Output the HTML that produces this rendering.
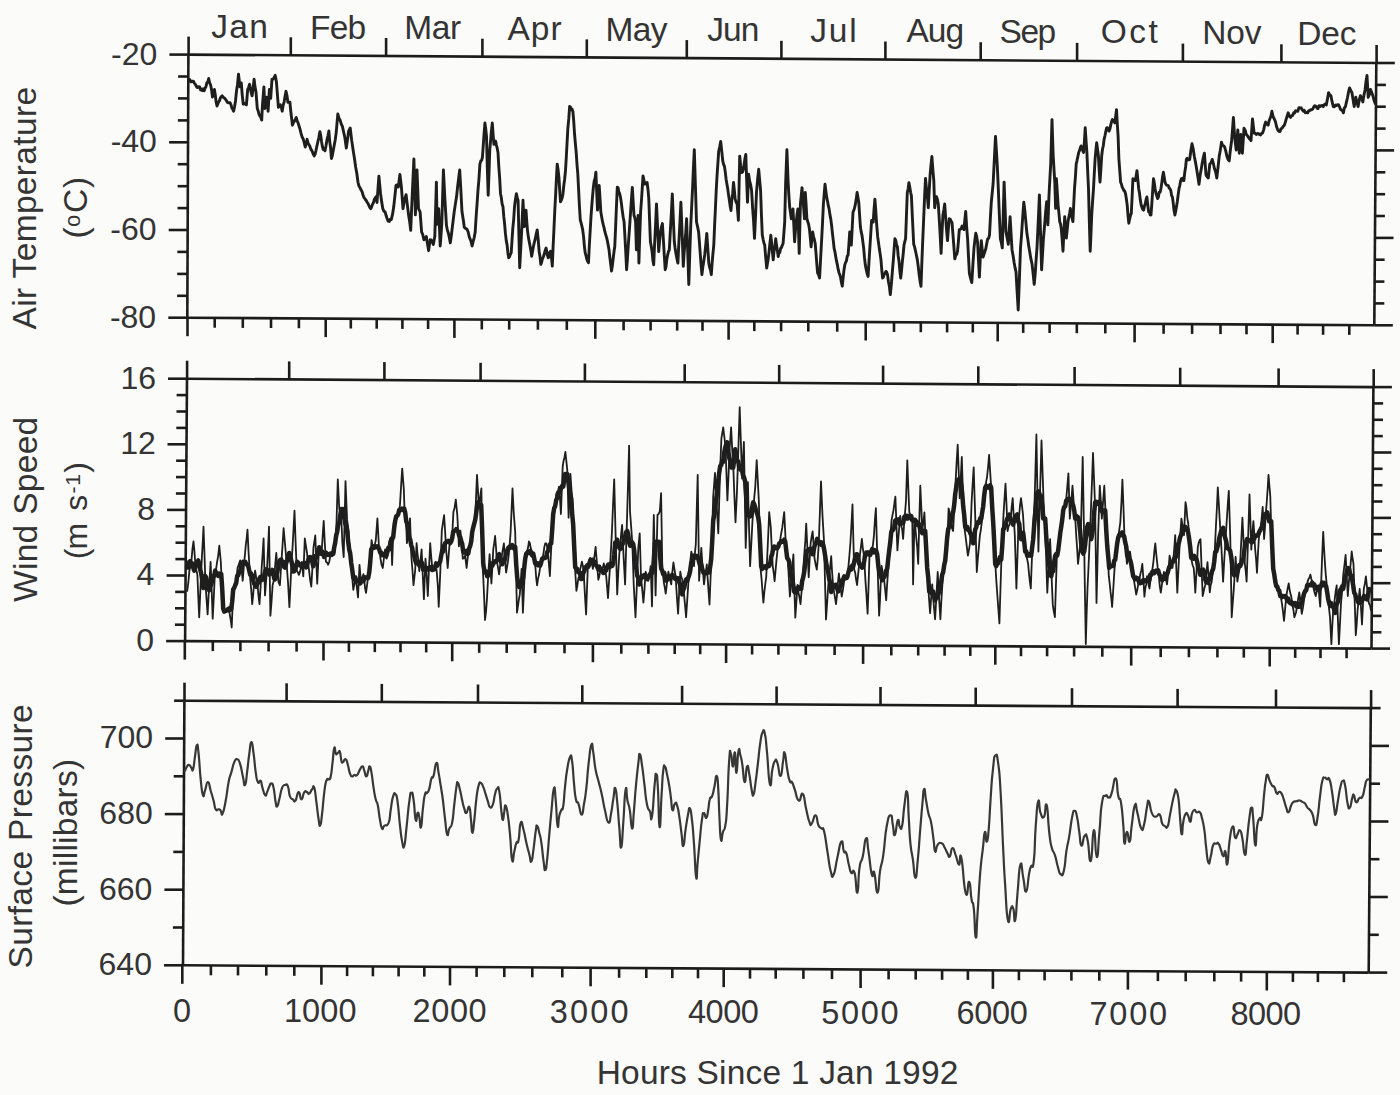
<!DOCTYPE html>
<html><head><meta charset="utf-8"><style>
html,body{margin:0;padding:0;background:#fbfbf9;}
svg{display:block;}
text{font-family:"Liberation Sans",sans-serif;fill:#343434;}
</style></head><body>
<svg width="1400" height="1095" viewBox="0 0 1400 1095">
<rect width="1400" height="1095" fill="#fbfbf9"/>
<g stroke="#1c1c1c" stroke-width="2.6" stroke-linecap="butt" fill="none"><line x1="188.4" y1="54.6" x2="1376.3" y2="63.0"/><line x1="1376.3" y1="63.0" x2="1374.3" y2="325.3"/><line x1="1374.3" y1="325.3" x2="187.3" y2="317.7"/><line x1="187.3" y1="317.7" x2="188.4" y2="54.6"/><line x1="188.6" y1="54.6" x2="188.6" y2="36.6"/><line x1="290.8" y1="55.3" x2="290.8" y2="37.3"/><line x1="386.1" y1="56.0" x2="386.1" y2="38.0"/><line x1="482.4" y1="56.7" x2="482.4" y2="38.7"/><line x1="586.8" y1="57.4" x2="586.8" y2="39.4"/><line x1="686.8" y1="58.1" x2="686.8" y2="40.1"/><line x1="781.4" y1="58.8" x2="781.4" y2="40.8"/><line x1="885.4" y1="59.5" x2="885.4" y2="41.5"/><line x1="980.7" y1="60.2" x2="980.7" y2="42.2"/><line x1="1077.1" y1="60.9" x2="1077.1" y2="42.9"/><line x1="1182.9" y1="61.6" x2="1182.9" y2="43.6"/><line x1="1281.4" y1="62.3" x2="1281.4" y2="44.3"/><line x1="1376.6" y1="63.0" x2="1376.6" y2="45.0"/><line x1="187.5" y1="317.7" x2="187.5" y2="336.2"/><line x1="214.7" y1="317.9" x2="214.7" y2="327.7"/><line x1="242.8" y1="318.1" x2="242.8" y2="327.9"/><line x1="271.0" y1="318.2" x2="271.0" y2="328.0"/><line x1="298.9" y1="318.4" x2="298.9" y2="328.2"/><line x1="325.7" y1="318.6" x2="325.7" y2="337.1"/><line x1="350.8" y1="318.7" x2="350.8" y2="328.5"/><line x1="376.7" y1="318.9" x2="376.7" y2="328.7"/><line x1="402.4" y1="319.1" x2="402.4" y2="328.9"/><line x1="428.1" y1="319.2" x2="428.1" y2="329.0"/><line x1="454.4" y1="319.4" x2="454.4" y2="337.9"/><line x1="481.8" y1="319.6" x2="481.8" y2="329.4"/><line x1="509.2" y1="319.8" x2="509.2" y2="329.6"/><line x1="537.9" y1="319.9" x2="537.9" y2="329.7"/><line x1="566.8" y1="320.1" x2="566.8" y2="329.9"/><line x1="595.3" y1="320.3" x2="595.3" y2="338.8"/><line x1="623.6" y1="320.5" x2="623.6" y2="330.3"/><line x1="650.6" y1="320.7" x2="650.6" y2="330.5"/><line x1="677.2" y1="320.8" x2="677.2" y2="330.6"/><line x1="702.5" y1="321.0" x2="702.5" y2="330.8"/><line x1="728.6" y1="321.2" x2="728.6" y2="339.7"/><line x1="754.3" y1="321.3" x2="754.3" y2="331.1"/><line x1="781.1" y1="321.5" x2="781.1" y2="331.3"/><line x1="808.3" y1="321.7" x2="808.3" y2="331.5"/><line x1="837.2" y1="321.9" x2="837.2" y2="331.7"/><line x1="865.7" y1="322.0" x2="865.7" y2="340.5"/><line x1="894.0" y1="322.2" x2="894.0" y2="332.0"/><line x1="920.8" y1="322.4" x2="920.8" y2="332.2"/><line x1="947.1" y1="322.6" x2="947.1" y2="332.4"/><line x1="972.8" y1="322.7" x2="972.8" y2="332.5"/><line x1="997.7" y1="322.9" x2="997.7" y2="341.4"/><line x1="1023.2" y1="323.1" x2="1023.2" y2="332.9"/><line x1="1049.6" y1="323.2" x2="1049.6" y2="333.0"/><line x1="1076.8" y1="323.4" x2="1076.8" y2="333.2"/><line x1="1105.3" y1="323.6" x2="1105.3" y2="333.4"/><line x1="1134.6" y1="323.8" x2="1134.6" y2="342.3"/><line x1="1163.6" y1="324.0" x2="1163.6" y2="333.8"/><line x1="1192.1" y1="324.1" x2="1192.1" y2="333.9"/><line x1="1220.5" y1="324.3" x2="1220.5" y2="334.1"/><line x1="1246.5" y1="324.5" x2="1246.5" y2="334.3"/><line x1="1272.7" y1="324.6" x2="1272.7" y2="343.1"/><line x1="1297.6" y1="324.8" x2="1297.6" y2="334.6"/><line x1="1323.1" y1="325.0" x2="1323.1" y2="334.8"/><line x1="1349.3" y1="325.1" x2="1349.3" y2="334.9"/><line x1="1374.3" y1="325.3" x2="1374.3" y2="325.3"/><line x1="187.0" y1="378.7" x2="1373.4" y2="387.1"/><line x1="1373.4" y1="387.1" x2="1371.5" y2="648.6"/><line x1="1371.5" y1="648.6" x2="185.1" y2="641.1"/><line x1="185.1" y1="641.1" x2="187.0" y2="378.7"/><line x1="187.1" y1="378.7" x2="187.1" y2="360.7"/><line x1="289.2" y1="379.4" x2="289.2" y2="361.4"/><line x1="384.4" y1="380.1" x2="384.4" y2="362.1"/><line x1="480.6" y1="380.8" x2="480.6" y2="362.8"/><line x1="584.9" y1="381.5" x2="584.9" y2="363.5"/><line x1="684.7" y1="382.2" x2="684.7" y2="364.2"/><line x1="779.2" y1="382.9" x2="779.2" y2="364.9"/><line x1="883.1" y1="383.6" x2="883.1" y2="365.6"/><line x1="978.3" y1="384.3" x2="978.3" y2="366.3"/><line x1="1074.6" y1="385.0" x2="1074.6" y2="367.0"/><line x1="1180.2" y1="385.7" x2="1180.2" y2="367.7"/><line x1="1278.6" y1="386.4" x2="1278.6" y2="368.4"/><line x1="1373.7" y1="387.1" x2="1373.7" y2="369.1"/><line x1="184.8" y1="641.1" x2="184.8" y2="659.6"/><line x1="212.8" y1="641.3" x2="212.8" y2="651.1"/><line x1="240.4" y1="641.4" x2="240.4" y2="651.2"/><line x1="268.6" y1="641.6" x2="268.6" y2="651.4"/><line x1="296.6" y1="641.8" x2="296.6" y2="651.6"/><line x1="323.5" y1="642.0" x2="323.5" y2="660.5"/><line x1="348.9" y1="642.1" x2="348.9" y2="651.9"/><line x1="374.8" y1="642.3" x2="374.8" y2="652.1"/><line x1="400.5" y1="642.5" x2="400.5" y2="652.3"/><line x1="426.2" y1="642.6" x2="426.2" y2="652.4"/><line x1="452.2" y1="642.8" x2="452.2" y2="661.3"/><line x1="479.2" y1="643.0" x2="479.2" y2="652.8"/><line x1="506.7" y1="643.1" x2="506.7" y2="652.9"/><line x1="535.1" y1="643.3" x2="535.1" y2="653.1"/><line x1="564.5" y1="643.5" x2="564.5" y2="653.3"/><line x1="592.9" y1="643.7" x2="592.9" y2="662.2"/><line x1="621.3" y1="643.9" x2="621.3" y2="653.7"/><line x1="648.4" y1="644.0" x2="648.4" y2="653.8"/><line x1="674.7" y1="644.2" x2="674.7" y2="654.0"/><line x1="700.2" y1="644.4" x2="700.2" y2="654.2"/><line x1="726.1" y1="644.5" x2="726.1" y2="663.0"/><line x1="752.1" y1="644.7" x2="752.1" y2="654.5"/><line x1="778.4" y1="644.9" x2="778.4" y2="654.7"/><line x1="805.8" y1="645.0" x2="805.8" y2="654.8"/><line x1="834.6" y1="645.2" x2="834.6" y2="655.0"/><line x1="863.1" y1="645.4" x2="863.1" y2="663.9"/><line x1="891.3" y1="645.6" x2="891.3" y2="655.4"/><line x1="918.2" y1="645.7" x2="918.2" y2="655.5"/><line x1="944.6" y1="645.9" x2="944.6" y2="655.7"/><line x1="970.3" y1="646.1" x2="970.3" y2="655.9"/><line x1="995.3" y1="646.2" x2="995.3" y2="664.7"/><line x1="1021.0" y1="646.4" x2="1021.0" y2="656.2"/><line x1="1047.1" y1="646.5" x2="1047.1" y2="656.3"/><line x1="1074.1" y1="646.7" x2="1074.1" y2="656.5"/><line x1="1102.3" y1="646.9" x2="1102.3" y2="656.7"/><line x1="1131.2" y1="647.1" x2="1131.2" y2="665.6"/><line x1="1160.7" y1="647.3" x2="1160.7" y2="657.1"/><line x1="1188.9" y1="647.4" x2="1188.9" y2="657.2"/><line x1="1217.4" y1="647.6" x2="1217.4" y2="657.4"/><line x1="1243.8" y1="647.8" x2="1243.8" y2="657.6"/><line x1="1269.7" y1="648.0" x2="1269.7" y2="666.5"/><line x1="1295.2" y1="648.1" x2="1295.2" y2="657.9"/><line x1="1320.5" y1="648.3" x2="1320.5" y2="658.1"/><line x1="1346.6" y1="648.4" x2="1346.6" y2="658.2"/><line x1="1371.5" y1="648.6" x2="1371.5" y2="648.6"/><line x1="184.4" y1="700.7" x2="1370.8" y2="708.1"/><line x1="1370.8" y1="708.1" x2="1368.7" y2="972.6"/><line x1="1368.7" y1="972.6" x2="183.0" y2="965.3"/><line x1="183.0" y1="965.3" x2="184.4" y2="700.7"/><line x1="184.5" y1="700.7" x2="184.5" y2="682.7"/><line x1="286.6" y1="701.3" x2="286.6" y2="683.3"/><line x1="381.8" y1="701.9" x2="381.8" y2="683.9"/><line x1="478.0" y1="702.5" x2="478.0" y2="684.5"/><line x1="582.3" y1="703.2" x2="582.3" y2="685.2"/><line x1="682.1" y1="703.8" x2="682.1" y2="685.8"/><line x1="776.6" y1="704.4" x2="776.6" y2="686.4"/><line x1="880.5" y1="705.0" x2="880.5" y2="687.0"/><line x1="975.7" y1="705.6" x2="975.7" y2="687.6"/><line x1="1072.0" y1="706.2" x2="1072.0" y2="688.2"/><line x1="1177.6" y1="706.9" x2="1177.6" y2="688.9"/><line x1="1276.0" y1="707.5" x2="1276.0" y2="689.5"/><line x1="1371.1" y1="708.1" x2="1371.1" y2="690.1"/><line x1="182.3" y1="965.3" x2="182.3" y2="983.8"/><line x1="210.9" y1="965.5" x2="210.9" y2="975.3"/><line x1="238.0" y1="965.6" x2="238.0" y2="975.4"/><line x1="266.3" y1="965.8" x2="266.3" y2="975.6"/><line x1="294.3" y1="966.0" x2="294.3" y2="975.8"/><line x1="321.4" y1="966.2" x2="321.4" y2="984.7"/><line x1="347.1" y1="966.3" x2="347.1" y2="976.1"/><line x1="372.9" y1="966.5" x2="372.9" y2="976.3"/><line x1="398.6" y1="966.6" x2="398.6" y2="976.4"/><line x1="424.3" y1="966.8" x2="424.3" y2="976.6"/><line x1="450.0" y1="966.9" x2="450.0" y2="985.4"/><line x1="476.6" y1="967.1" x2="476.6" y2="976.9"/><line x1="504.3" y1="967.3" x2="504.3" y2="977.1"/><line x1="532.3" y1="967.5" x2="532.3" y2="977.3"/><line x1="562.3" y1="967.6" x2="562.3" y2="977.4"/><line x1="590.6" y1="967.8" x2="590.6" y2="986.3"/><line x1="619.1" y1="968.0" x2="619.1" y2="977.8"/><line x1="646.3" y1="968.2" x2="646.3" y2="978.0"/><line x1="672.3" y1="968.3" x2="672.3" y2="978.1"/><line x1="698.0" y1="968.5" x2="698.0" y2="978.3"/><line x1="723.7" y1="968.6" x2="723.7" y2="987.1"/><line x1="750.0" y1="968.8" x2="750.0" y2="978.6"/><line x1="775.7" y1="968.9" x2="775.7" y2="978.7"/><line x1="803.4" y1="969.1" x2="803.4" y2="978.9"/><line x1="832.0" y1="969.3" x2="832.0" y2="979.1"/><line x1="860.6" y1="969.5" x2="860.6" y2="988.0"/><line x1="888.6" y1="969.6" x2="888.6" y2="979.4"/><line x1="915.7" y1="969.8" x2="915.7" y2="979.6"/><line x1="942.1" y1="970.0" x2="942.1" y2="979.8"/><line x1="967.9" y1="970.1" x2="967.9" y2="979.9"/><line x1="992.9" y1="970.3" x2="992.9" y2="988.8"/><line x1="1018.9" y1="970.4" x2="1018.9" y2="980.2"/><line x1="1044.6" y1="970.6" x2="1044.6" y2="980.4"/><line x1="1071.4" y1="970.8" x2="1071.4" y2="980.6"/><line x1="1099.3" y1="970.9" x2="1099.3" y2="980.7"/><line x1="1127.9" y1="971.1" x2="1127.9" y2="989.6"/><line x1="1157.9" y1="971.3" x2="1157.9" y2="981.1"/><line x1="1185.7" y1="971.5" x2="1185.7" y2="981.3"/><line x1="1214.3" y1="971.6" x2="1214.3" y2="981.4"/><line x1="1241.1" y1="971.8" x2="1241.1" y2="981.6"/><line x1="1266.8" y1="972.0" x2="1266.8" y2="990.5"/><line x1="1292.9" y1="972.1" x2="1292.9" y2="981.9"/><line x1="1317.9" y1="972.3" x2="1317.9" y2="982.1"/><line x1="1343.9" y1="972.4" x2="1343.9" y2="982.2"/><line x1="1368.7" y1="972.6" x2="1368.7" y2="972.6"/><line x1="187.3" y1="317.7" x2="168.3" y2="317.7"/><line x1="1374.3" y1="325.3" x2="1392.8" y2="325.3"/><line x1="187.4" y1="295.8" x2="177.1" y2="295.8"/><line x1="1374.5" y1="303.4" x2="1384.3" y2="303.4"/><line x1="187.5" y1="273.9" x2="177.2" y2="273.9"/><line x1="1374.6" y1="281.6" x2="1384.4" y2="281.6"/><line x1="187.6" y1="251.9" x2="177.3" y2="251.9"/><line x1="1374.8" y1="259.7" x2="1384.6" y2="259.7"/><line x1="187.7" y1="230.0" x2="168.7" y2="230.0"/><line x1="1375.0" y1="237.9" x2="1393.5" y2="237.9"/><line x1="187.8" y1="208.1" x2="177.5" y2="208.1"/><line x1="1375.1" y1="216.0" x2="1384.9" y2="216.0"/><line x1="187.9" y1="186.2" x2="177.6" y2="186.2"/><line x1="1375.3" y1="194.2" x2="1385.1" y2="194.2"/><line x1="188.0" y1="164.2" x2="177.7" y2="164.2"/><line x1="1375.5" y1="172.3" x2="1385.3" y2="172.3"/><line x1="188.1" y1="142.3" x2="169.1" y2="142.3"/><line x1="1375.6" y1="150.4" x2="1394.1" y2="150.4"/><line x1="188.2" y1="120.4" x2="177.9" y2="120.4"/><line x1="1375.8" y1="128.6" x2="1385.6" y2="128.6"/><line x1="188.3" y1="98.4" x2="178.0" y2="98.4"/><line x1="1376.0" y1="106.7" x2="1385.8" y2="106.7"/><line x1="188.4" y1="76.5" x2="178.1" y2="76.5"/><line x1="1376.1" y1="84.9" x2="1385.9" y2="84.9"/><line x1="188.4" y1="54.6" x2="169.4" y2="54.6"/><line x1="1376.3" y1="63.0" x2="1394.8" y2="63.0"/><line x1="185.1" y1="641.1" x2="166.1" y2="641.1"/><line x1="1371.5" y1="648.6" x2="1390.0" y2="648.6"/><line x1="185.2" y1="624.7" x2="174.9" y2="624.7"/><line x1="1371.6" y1="632.3" x2="1381.4" y2="632.3"/><line x1="185.3" y1="608.3" x2="175.0" y2="608.3"/><line x1="1371.7" y1="615.9" x2="1381.5" y2="615.9"/><line x1="185.5" y1="591.9" x2="175.2" y2="591.9"/><line x1="1371.9" y1="599.6" x2="1381.7" y2="599.6"/><line x1="185.6" y1="575.5" x2="166.6" y2="575.5"/><line x1="1372.0" y1="583.2" x2="1390.5" y2="583.2"/><line x1="185.7" y1="559.1" x2="175.4" y2="559.1"/><line x1="1372.1" y1="566.9" x2="1381.9" y2="566.9"/><line x1="185.8" y1="542.7" x2="175.5" y2="542.7"/><line x1="1372.2" y1="550.5" x2="1382.0" y2="550.5"/><line x1="185.9" y1="526.3" x2="175.6" y2="526.3"/><line x1="1372.3" y1="534.2" x2="1382.1" y2="534.2"/><line x1="186.1" y1="509.9" x2="167.1" y2="509.9"/><line x1="1372.5" y1="517.9" x2="1391.0" y2="517.9"/><line x1="186.2" y1="493.5" x2="175.9" y2="493.5"/><line x1="1372.6" y1="501.5" x2="1382.4" y2="501.5"/><line x1="186.3" y1="477.1" x2="176.0" y2="477.1"/><line x1="1372.7" y1="485.2" x2="1382.5" y2="485.2"/><line x1="186.4" y1="460.7" x2="176.1" y2="460.7"/><line x1="1372.8" y1="468.8" x2="1382.6" y2="468.8"/><line x1="186.5" y1="444.3" x2="167.5" y2="444.3"/><line x1="1372.9" y1="452.5" x2="1391.4" y2="452.5"/><line x1="186.6" y1="427.9" x2="176.3" y2="427.9"/><line x1="1373.0" y1="436.1" x2="1382.8" y2="436.1"/><line x1="186.8" y1="411.5" x2="176.5" y2="411.5"/><line x1="1373.2" y1="419.8" x2="1383.0" y2="419.8"/><line x1="186.9" y1="395.1" x2="176.6" y2="395.1"/><line x1="1373.3" y1="403.4" x2="1383.1" y2="403.4"/><line x1="187.0" y1="378.7" x2="168.0" y2="378.7"/><line x1="1373.4" y1="387.1" x2="1391.9" y2="387.1"/><line x1="183.0" y1="965.3" x2="164.0" y2="965.3"/><line x1="1368.7" y1="972.6" x2="1387.2" y2="972.6"/><line x1="183.2" y1="927.5" x2="172.9" y2="927.5"/><line x1="1369.0" y1="934.8" x2="1378.8" y2="934.8"/><line x1="183.4" y1="889.7" x2="164.4" y2="889.7"/><line x1="1369.3" y1="897.0" x2="1387.8" y2="897.0"/><line x1="183.6" y1="851.9" x2="173.3" y2="851.9"/><line x1="1369.6" y1="859.2" x2="1379.4" y2="859.2"/><line x1="183.8" y1="814.1" x2="164.8" y2="814.1"/><line x1="1369.9" y1="821.5" x2="1388.4" y2="821.5"/><line x1="184.0" y1="776.3" x2="173.7" y2="776.3"/><line x1="1370.2" y1="783.7" x2="1380.0" y2="783.7"/><line x1="184.2" y1="738.5" x2="165.2" y2="738.5"/><line x1="1370.5" y1="745.9" x2="1389.0" y2="745.9"/><line x1="184.4" y1="700.7" x2="174.1" y2="700.7"/><line x1="1370.8" y1="708.1" x2="1380.6" y2="708.1"/></g>
<g fill="none" stroke-linejoin="round" stroke-linecap="round">
<path d="M188.8 80.5 L189.8 79.5 L190.8 81.8 L191.7 81.7 L192.7 81.1 L193.5 81.4 L194.4 83.2 L195.2 84.1 L196.1 85.8 L196.9 87.3 L197.8 87.5 L198.7 86.7 L199.6 87.0 L200.5 89.9 L201.4 89.1 L202.4 90.6 L203.3 88.7 L204.2 90.7 L205.1 88.1 L206.0 86.5 L206.9 82.6 L207.8 82.3 L208.7 78.5 L209.6 82.9 L210.6 84.9 L211.5 89.6 L212.5 97.1 L213.5 91.8 L214.4 89.4 L215.3 95.1 L216.1 101.8 L217.0 106.0 L217.8 104.0 L218.7 101.8 L219.5 100.7 L220.4 97.8 L221.2 96.7 L222.1 95.8 L222.9 96.7 L223.8 97.9 L224.6 98.2 L225.5 99.3 L226.3 100.3 L227.2 102.2 L228.2 102.7 L229.1 102.8 L230.1 102.7 L231.0 104.8 L231.9 107.9 L232.7 109.2 L233.6 111.2 L234.6 106.5 L235.5 100.9 L236.5 91.0 L237.5 84.5 L238.5 74.1 L240.0 86.9 L241.3 83.0 L242.2 94.6 L243.2 104.1 L244.2 103.2 L245.3 104.0 L246.4 104.8 L247.7 89.4 L248.6 87.5 L249.6 84.3 L250.9 91.3 L252.1 95.8 L253.1 88.1 L254.1 79.2 L255.0 86.9 L256.0 92.0 L257.3 108.6 L258.1 110.7 L259.0 114.2 L259.9 116.0 L260.8 117.2 L261.7 120.1 L262.4 106.0 L263.9 86.9 L264.9 108.6 L265.9 103.1 L266.8 97.1 L268.1 111.2 L269.4 89.4 L270.7 98.4 L272.0 79.2 L273.0 79.1 L274.1 77.7 L275.2 75.3 L276.4 81.7 L277.4 94.5 L278.4 107.3 L279.3 106.3 L280.3 104.8 L281.2 106.6 L282.2 111.2 L283.1 105.4 L284.1 102.1 L285.1 96.0 L286.0 91.3 L287.0 95.8 L287.9 102.2 L288.9 102.3 L289.9 102.2 L290.7 110.5 L291.6 118.1 L292.4 125.2 L293.4 122.9 L294.3 121.2 L295.3 119.5 L296.3 117.5 L297.1 120.9 L298.0 122.7 L298.8 125.2 L299.9 128.7 L300.9 132.9 L302.0 136.7 L303.1 138.7 L304.1 142.2 L305.2 147.0 L306.2 143.7 L307.1 139.3 L308.1 143.3 L309.0 144.7 L310.0 146.6 L311.0 149.5 L312.0 150.7 L313.1 153.8 L314.2 155.9 L315.0 154.4 L315.9 150.8 L316.7 147.0 L317.8 142.0 L318.8 137.8 L319.9 131.6 L320.8 135.9 L321.6 141.9 L322.5 147.0 L323.3 149.6 L324.2 149.7 L325.0 150.8 L326.0 145.7 L326.9 140.2 L327.9 136.1 L328.9 131.0 L329.7 141.5 L330.6 147.8 L331.4 158.5 L332.3 155.7 L333.1 151.2 L334.1 146.0 L335.2 140.0 L336.2 132.6 L337.8 114.0 L338.9 117.8 L340.1 120.2 L341.3 124.2 L342.4 126.4 L343.6 131.9 L344.8 137.3 L346.3 148.1 L347.5 139.8 L348.6 131.1 L350.2 128.0 L351.7 140.4 L353.3 151.2 L354.5 158.8 L355.6 166.8 L356.8 173.2 L358.0 182.3 L359.0 186.0 L360.0 187.7 L361.1 190.1 L362.1 191.7 L363.1 195.3 L364.2 197.8 L365.2 199.3 L366.2 200.5 L367.3 202.5 L368.1 203.6 L369.0 205.7 L369.8 207.5 L370.7 208.7 L371.6 207.0 L372.5 204.4 L373.5 202.5 L374.5 199.0 L375.5 197.5 L376.6 196.3 L377.0 202.5 L378.0 188.3 L378.9 176.1 L380.5 193.2 L381.6 201.2 L382.8 208.7 L384.0 211.3 L385.1 211.8 L386.2 215.8 L387.2 218.9 L388.2 221.1 L389.3 221.5 L390.3 219.3 L391.3 219.6 L392.5 214.4 L393.7 207.1 L394.8 196.8 L396.0 185.4 L397.2 184.9 L398.3 187.0 L399.9 174.5 L401.4 187.0 L403.0 208.7 L404.0 202.6 L405.1 197.9 L406.1 194.7 L407.6 207.1 L408.7 215.7 L409.7 221.9 L410.7 230.4 L412.3 193.2 L413.9 159.0 L415.4 214.9 L417.0 169.9 L418.5 208.7 L420.1 211.8 L421.6 232.0 L422.8 234.7 L423.9 239.8 L425.1 238.6 L426.3 236.6 L427.4 243.2 L428.6 250.6 L430.2 239.8 L431.2 240.0 L432.2 241.8 L433.3 244.4 L434.8 236.6 L436.4 182.3 L437.1 224.2 L438.7 208.7 L440.2 246.0 L441.8 224.2 L443.4 169.9 L444.9 199.4 L446.5 225.8 L447.4 230.1 L448.4 233.3 L449.4 237.9 L450.3 242.9 L451.5 234.2 L452.7 224.2 L454.2 211.8 L455.4 203.9 L456.6 196.3 L457.6 186.9 L458.6 178.6 L459.7 169.9 L460.8 189.4 L462.0 211.8 L463.2 219.2 L464.3 227.3 L465.3 228.3 L466.3 228.7 L467.2 229.6 L468.2 232.0 L469.2 236.7 L470.1 239.0 L471.1 241.6 L472.1 246.0 L473.1 241.6 L474.2 237.6 L475.2 232.0 L476.1 217.0 L477.1 203.4 L478.0 190.2 L479.0 178.3 L479.9 164.1 L480.8 160.9 L481.6 160.3 L482.4 157.5 L483.2 146.5 L484.0 134.6 L484.9 123.0 L485.7 128.7 L486.5 136.1 L487.3 167.2 L488.2 195.3 L489.0 173.2 L489.8 149.3 L490.6 140.6 L491.4 130.9 L492.3 123.0 L493.1 134.1 L493.9 144.3 L494.7 142.4 L495.6 141.1 L496.4 145.1 L497.2 148.2 L498.0 152.6 L498.8 166.7 L499.7 178.7 L500.5 193.7 L501.3 197.5 L502.1 203.9 L503.0 206.8 L503.8 216.7 L504.6 223.8 L505.4 233.2 L506.2 240.4 L507.1 244.9 L507.9 253.0 L508.7 257.8 L509.5 256.9 L510.4 254.3 L511.2 252.9 L512.0 240.6 L512.8 228.4 L513.7 219.5 L514.5 206.8 L515.5 198.9 L516.4 193.7 L517.3 197.9 L518.1 200.3 L518.9 235.4 L519.7 267.7 L520.8 247.3 L521.9 226.6 L523.0 200.3 L524.3 226.6 L525.2 217.4 L526.0 210.1 L526.8 221.9 L527.6 231.5 L528.5 237.9 L529.3 242.0 L530.1 246.3 L530.9 250.9 L531.7 256.2 L532.6 251.3 L533.4 246.5 L534.2 243.0 L535.2 239.2 L536.2 234.1 L537.2 229.9 L538.2 239.6 L539.1 251.2 L540.0 256.6 L540.8 264.4 L541.6 262.4 L542.4 258.9 L543.3 257.0 L544.1 254.5 L545.1 250.7 L546.1 248.0 L547.1 254.0 L548.2 257.8 L549.0 256.8 L549.8 252.0 L550.7 251.2 L551.5 257.8 L552.3 266.1 L553.1 246.9 L553.9 230.2 L554.8 210.1 L555.6 195.6 L556.4 178.9 L557.2 164.1 L558.1 169.8 L558.9 177.2 L559.7 190.1 L560.5 201.9 L561.3 200.2 L562.2 197.7 L563.0 193.7 L563.8 185.5 L564.6 179.5 L565.5 170.7 L566.3 157.0 L567.1 142.1 L567.9 127.9 L568.8 118.7 L569.6 106.5 L570.4 107.0 L571.2 109.7 L572.0 109.0 L572.9 111.4 L573.7 120.9 L574.5 133.5 L575.3 142.7 L576.2 152.3 L577.0 164.3 L577.8 173.9 L578.6 189.6 L579.4 205.7 L580.3 220.0 L581.1 222.9 L581.9 226.1 L582.7 229.9 L583.6 236.9 L584.4 246.3 L585.2 252.9 L586.0 255.7 L586.8 259.2 L587.7 261.5 L588.5 262.8 L589.3 246.3 L590.1 232.2 L591.0 216.7 L591.8 205.7 L592.6 195.6 L593.4 187.1 L594.2 180.9 L595.1 178.3 L595.9 172.3 L596.7 192.1 L597.5 210.1 L598.4 198.8 L599.2 185.5 L600.0 198.1 L600.8 211.8 L601.6 216.5 L602.5 221.4 L603.3 224.9 L604.1 227.9 L604.9 231.7 L605.8 234.8 L606.6 237.7 L607.4 240.9 L608.2 245.2 L609.0 249.6 L609.9 257.9 L610.7 264.1 L611.5 271.0 L612.3 266.1 L613.2 258.5 L614.0 251.8 L614.8 246.3 L615.6 227.4 L616.4 207.8 L617.3 187.1 L618.1 187.8 L618.9 192.0 L619.7 193.7 L620.6 197.9 L621.4 203.5 L622.2 210.1 L623.2 217.2 L624.1 222.0 L624.9 236.5 L625.8 253.0 L626.6 269.7 L627.4 259.6 L628.2 246.4 L629.0 235.1 L629.9 222.1 L630.7 210.3 L631.5 198.6 L632.3 187.4 L633.2 202.1 L634.0 215.4 L634.8 217.5 L635.6 222.0 L636.4 249.9 L637.3 233.9 L638.1 215.4 L638.9 263.1 L639.7 237.2 L640.6 212.1 L641.4 201.5 L642.2 189.2 L643.0 175.9 L643.8 179.4 L644.7 184.1 L645.5 182.9 L646.3 183.0 L647.1 182.5 L648.0 189.5 L648.8 198.9 L649.6 220.8 L650.4 241.7 L651.2 246.1 L652.1 251.8 L652.9 260.4 L653.7 264.7 L654.6 243.8 L655.6 224.5 L656.5 203.9 L657.6 227.6 L658.7 251.6 L659.5 242.0 L660.3 233.5 L661.4 227.2 L662.4 223.6 L663.4 240.2 L664.3 255.7 L665.2 269.7 L666.1 266.1 L666.9 258.6 L667.7 254.9 L668.5 251.5 L669.3 249.9 L670.3 231.6 L671.3 214.1 L672.3 194.0 L673.3 218.0 L674.3 241.7 L675.1 248.0 L675.9 253.2 L676.9 258.6 L677.9 263.1 L678.9 242.1 L679.9 222.6 L680.9 202.2 L681.7 223.0 L682.5 244.2 L683.3 266.4 L684.1 253.2 L685.0 241.9 L685.8 232.1 L686.6 218.7 L687.7 251.4 L688.8 284.5 L689.7 256.1 L690.7 226.9 L691.6 208.0 L692.5 189.6 L693.4 168.6 L694.3 149.6 L695.4 185.2 L696.5 222.0 L697.5 226.4 L698.6 231.8 L699.4 242.0 L700.3 254.3 L701.1 265.1 L701.9 274.6 L702.8 267.4 L703.8 261.0 L704.7 254.9 L705.8 244.3 L706.8 233.5 L707.8 248.5 L708.8 263.1 L709.6 267.2 L710.5 270.0 L711.3 274.6 L712.1 263.3 L712.9 254.1 L713.8 245.0 L714.6 225.6 L715.4 209.0 L716.2 190.7 L717.0 176.3 L717.9 163.1 L718.7 151.2 L719.7 146.7 L720.7 141.4 L721.7 150.6 L722.8 161.1 L723.6 164.5 L724.4 166.1 L725.3 172.1 L726.1 179.2 L726.9 184.1 L727.7 188.6 L728.6 195.1 L729.4 200.6 L730.2 206.4 L731.0 210.5 L731.8 199.9 L732.7 193.2 L733.5 182.5 L734.3 189.7 L735.1 198.9 L736.1 202.2 L737.1 203.9 L738.4 220.3 L739.7 156.2 L740.7 165.9 L741.7 172.6 L742.5 172.0 L743.4 169.3 L744.2 163.9 L745.0 158.3 L745.8 154.5 L746.6 178.4 L747.5 202.2 L748.6 174.3 L749.6 181.0 L750.6 184.6 L751.6 190.7 L752.6 207.8 L753.6 221.4 L754.5 238.4 L755.5 216.6 L756.5 192.4 L757.6 179.5 L758.7 169.3 L759.6 179.5 L760.6 190.7 L761.4 214.1 L762.3 235.1 L763.1 239.3 L763.9 242.9 L764.7 245.0 L765.7 257.5 L766.7 268.0 L768.3 258.3 L769.1 251.4 L769.9 243.5 L770.8 235.3 L771.6 242.5 L772.4 251.5 L773.2 259.9 L774.0 251.8 L774.9 246.3 L775.7 238.6 L776.5 245.1 L777.3 249.9 L778.2 256.6 L779.0 252.6 L779.8 252.6 L780.6 248.4 L781.4 247.7 L782.3 245.3 L783.1 243.5 L783.9 232.9 L784.7 222.1 L785.6 184.3 L786.9 149.7 L788.0 179.3 L788.8 194.4 L789.7 207.3 L790.5 212.9 L791.3 218.8 L792.1 213.6 L793.0 208.9 L793.8 224.9 L794.6 241.8 L795.4 231.2 L796.2 222.1 L797.1 214.1 L797.9 208.9 L799.2 253.4 L800.4 204.0 L801.2 196.2 L802.0 187.6 L802.8 197.7 L803.7 208.6 L804.5 218.8 L805.3 192.5 L806.1 204.3 L806.9 218.8 L807.8 221.7 L808.6 224.3 L809.4 228.7 L810.2 236.6 L811.1 246.8 L811.9 238.7 L812.7 232.0 L813.5 236.8 L814.3 239.3 L815.2 243.5 L816.0 253.1 L816.8 263.6 L817.6 273.1 L818.6 274.8 L819.6 278.0 L820.7 256.8 L821.7 238.6 L822.6 221.4 L823.4 204.0 L824.2 194.1 L825.0 184.3 L825.9 191.3 L826.7 197.4 L827.5 201.1 L828.3 205.7 L829.1 208.9 L830.0 215.1 L830.8 219.1 L831.6 225.4 L832.4 233.1 L833.3 240.7 L834.1 248.4 L834.9 251.7 L835.7 256.4 L836.5 260.9 L837.4 264.9 L838.2 269.4 L839.0 272.7 L839.8 274.7 L840.7 277.9 L841.5 282.9 L842.3 286.2 L843.1 277.8 L843.9 270.7 L844.8 264.9 L845.6 262.4 L846.4 261.1 L847.2 256.4 L848.1 255.0 L848.9 244.3 L849.7 232.0 L850.5 239.7 L851.3 245.1 L852.2 228.1 L853.0 212.2 L854.1 209.5 L855.1 205.7 L856.1 200.1 L857.1 192.5 L857.9 197.0 L858.8 202.4 L859.6 215.3 L860.4 227.0 L861.2 231.9 L862.0 235.3 L862.9 242.1 L863.7 248.4 L864.5 257.7 L865.3 264.9 L866.3 269.9 L867.2 273.9 L868.1 276.4 L869.4 255.0 L870.5 237.9 L871.6 220.5 L872.4 220.3 L873.2 222.1 L874.0 209.8 L874.9 199.1 L875.7 209.7 L876.5 222.1 L877.7 236.9 L878.5 242.6 L879.3 248.6 L880.1 253.4 L881.0 260.2 L881.8 270.3 L882.6 278.0 L883.4 277.0 L884.2 274.3 L885.1 273.1 L885.9 271.4 L886.7 272.1 L887.5 274.7 L888.5 282.0 L889.4 286.5 L890.3 294.5 L891.4 283.6 L892.5 269.8 L893.3 260.3 L894.1 249.4 L894.9 238.6 L895.8 240.6 L896.6 245.3 L897.4 246.8 L898.2 256.0 L899.0 261.3 L899.9 271.0 L900.7 278.0 L901.5 270.8 L902.3 262.1 L903.2 254.0 L904.0 245.1 L904.8 241.7 L905.6 238.6 L906.4 216.8 L907.3 192.5 L908.1 189.0 L908.9 182.6 L909.7 186.7 L910.6 192.3 L911.4 195.8 L912.5 219.8 L913.7 244.2 L914.6 246.9 L915.5 251.0 L916.4 255.2 L917.3 259.6 L918.2 266.2 L919.1 274.1 L920.0 280.9 L921.0 286.3 L921.9 261.4 L922.8 238.8 L923.7 218.1 L924.6 196.7 L925.5 178.5 L926.4 187.9 L927.4 196.8 L928.3 207.7 L929.2 190.6 L930.1 174.8 L931.0 164.9 L931.9 156.5 L932.8 169.2 L933.8 180.3 L934.7 207.7 L935.6 200.7 L936.5 196.7 L937.4 199.5 L938.3 204.0 L939.2 218.5 L940.1 233.3 L941.1 253.4 L942.0 232.8 L942.9 215.0 L943.8 209.9 L944.7 204.0 L945.6 216.5 L946.5 229.4 L947.5 240.6 L948.4 228.7 L949.3 218.7 L950.2 219.2 L951.1 221.2 L952.0 222.3 L952.9 233.8 L953.9 246.9 L954.8 258.9 L955.7 255.7 L956.6 254.5 L957.5 251.6 L958.4 241.5 L959.3 229.6 L960.2 229.3 L961.2 228.6 L962.1 226.0 L963.0 227.9 L963.9 229.6 L964.8 220.5 L965.7 211.4 L966.6 226.1 L967.6 238.8 L968.5 256.9 L969.4 273.5 L970.6 278.3 L971.8 282.6 L972.9 264.9 L974.0 247.9 L974.9 239.9 L975.8 233.3 L976.7 236.7 L977.6 242.4 L978.5 260.7 L979.4 277.1 L980.3 257.7 L981.3 240.6 L982.2 249.6 L983.1 257.0 L984.0 254.4 L984.9 251.6 L985.8 248.7 L986.7 243.8 L987.7 238.8 L988.6 238.4 L989.5 235.1 L990.4 217.6 L991.3 202.2 L992.2 193.1 L993.1 184.0 L994.3 160.4 L995.5 136.4 L996.4 150.5 L997.3 165.7 L998.3 188.5 L999.2 211.4 L1000.4 238.8 L1001.4 242.9 L1002.3 247.9 L1003.2 215.1 L1004.1 182.1 L1005.0 205.3 L1005.9 231.5 L1007.1 237.7 L1008.3 244.2 L1009.2 230.4 L1010.1 216.8 L1011.0 232.7 L1012.0 249.7 L1013.1 255.8 L1014.1 262.5 L1015.1 267.9 L1016.0 271.7 L1017.1 291.4 L1018.2 310.0 L1019.4 278.9 L1020.5 247.9 L1021.4 236.9 L1022.2 224.7 L1023.0 212.8 L1023.8 202.2 L1024.9 211.1 L1025.9 222.3 L1026.9 233.3 L1027.9 239.7 L1028.8 246.6 L1029.7 251.6 L1030.9 258.9 L1032.1 264.3 L1033.2 274.4 L1034.2 284.4 L1035.2 273.7 L1036.1 260.0 L1037.0 247.9 L1038.2 222.4 L1039.4 194.9 L1040.5 232.1 L1041.6 269.8 L1042.5 255.0 L1043.4 238.8 L1044.4 227.9 L1045.5 213.6 L1046.6 201.8 L1047.9 224.9 L1049.0 195.3 L1049.9 178.6 L1050.7 164.0 L1052.0 119.6 L1053.2 155.8 L1054.0 169.3 L1054.8 182.1 L1055.6 208.4 L1056.4 178.8 L1057.3 192.1 L1058.1 205.1 L1058.9 212.9 L1059.7 221.6 L1060.6 224.2 L1061.4 229.8 L1062.2 240.2 L1063.0 251.2 L1063.8 233.7 L1064.7 216.6 L1065.5 227.1 L1066.3 238.0 L1067.1 230.9 L1068.0 221.6 L1068.8 217.4 L1069.6 213.5 L1070.4 208.4 L1071.2 214.0 L1072.1 217.9 L1072.9 221.6 L1073.7 205.1 L1074.5 188.7 L1075.4 177.1 L1076.2 164.0 L1077.0 160.6 L1077.8 156.8 L1078.7 152.5 L1079.5 150.7 L1080.3 147.8 L1081.1 145.9 L1081.9 148.5 L1082.8 150.7 L1083.6 152.5 L1084.4 141.5 L1085.2 127.8 L1086.1 141.0 L1086.9 152.5 L1087.7 171.6 L1088.5 188.7 L1089.3 220.7 L1090.2 251.2 L1091.0 233.2 L1091.8 213.4 L1092.6 201.3 L1093.5 188.7 L1094.3 173.4 L1095.1 159.1 L1095.9 150.1 L1096.7 142.6 L1097.6 149.8 L1098.4 155.8 L1099.2 170.1 L1100.0 182.1 L1100.9 169.1 L1101.7 155.8 L1102.5 149.3 L1103.3 145.8 L1104.1 139.3 L1105.0 135.5 L1105.8 131.6 L1106.6 127.8 L1107.4 127.6 L1108.3 130.1 L1109.1 131.1 L1109.9 129.0 L1110.7 125.1 L1111.5 122.0 L1112.4 119.6 L1113.2 121.2 L1114.0 120.4 L1114.8 122.9 L1115.7 116.3 L1116.5 109.7 L1117.3 124.2 L1118.1 136.1 L1118.9 159.1 L1119.8 171.2 L1120.6 182.1 L1121.4 184.0 L1122.2 187.1 L1123.1 188.7 L1123.9 190.6 L1124.7 191.1 L1125.5 193.6 L1126.3 198.5 L1127.2 205.1 L1128.0 215.3 L1128.8 223.2 L1129.6 219.2 L1130.5 215.4 L1131.3 213.4 L1132.1 197.1 L1132.9 178.8 L1133.8 179.4 L1134.6 179.5 L1135.4 180.5 L1136.2 175.6 L1137.0 170.6 L1137.9 180.3 L1138.7 188.7 L1139.5 193.2 L1140.3 200.1 L1141.2 205.1 L1142.0 207.4 L1142.8 209.4 L1143.6 210.1 L1144.4 206.1 L1145.3 203.8 L1146.1 199.4 L1146.9 196.9 L1147.7 204.5 L1148.6 211.7 L1149.4 211.8 L1150.2 214.8 L1151.0 215.0 L1151.8 204.0 L1152.7 190.4 L1153.5 178.8 L1154.3 182.9 L1155.1 188.7 L1156.0 193.4 L1156.8 195.9 L1157.6 198.6 L1158.4 197.1 L1159.2 192.2 L1160.1 192.3 L1160.9 188.7 L1161.7 183.6 L1162.5 177.2 L1163.4 172.2 L1164.2 177.0 L1165.0 182.1 L1165.8 184.0 L1166.6 185.2 L1167.5 185.4 L1168.3 185.6 L1169.1 188.0 L1169.9 188.7 L1170.8 190.4 L1171.6 195.6 L1172.4 196.9 L1173.2 202.8 L1174.0 210.2 L1174.9 215.0 L1175.7 211.3 L1176.5 206.5 L1177.3 201.8 L1178.2 194.5 L1179.0 188.7 L1179.8 185.5 L1180.6 181.0 L1181.4 178.8 L1182.3 178.3 L1183.1 180.6 L1183.9 180.5 L1184.7 172.9 L1185.6 167.0 L1186.4 159.1 L1187.2 158.4 L1188.0 159.9 L1188.8 159.9 L1189.7 159.4 L1190.8 151.0 L1192.0 143.8 L1193.2 148.9 L1194.3 156.3 L1195.5 162.2 L1196.6 168.7 L1197.8 176.4 L1199.0 184.2 L1200.1 175.2 L1201.3 168.7 L1202.3 162.6 L1203.4 157.0 L1204.4 153.2 L1206.0 174.9 L1207.1 176.7 L1208.3 178.0 L1209.8 164.0 L1211.0 162.9 L1212.2 159.4 L1213.3 163.2 L1214.5 168.7 L1215.7 171.9 L1216.8 178.0 L1218.0 167.7 L1219.2 156.3 L1220.3 150.2 L1221.5 142.3 L1222.5 145.2 L1223.6 145.7 L1224.6 146.9 L1225.8 151.1 L1226.9 156.3 L1228.1 159.6 L1229.2 160.9 L1230.4 149.7 L1231.6 140.7 L1232.5 129.7 L1233.4 117.4 L1234.7 137.6 L1236.2 150.0 L1237.8 129.9 L1239.3 153.2 L1240.9 134.5 L1242.4 153.2 L1244.0 128.3 L1245.2 130.2 L1246.3 134.5 L1247.5 135.8 L1248.7 137.6 L1249.8 139.2 L1251.0 140.7 L1252.5 119.0 L1254.1 133.0 L1255.3 133.4 L1256.4 134.5 L1257.5 133.5 L1258.5 133.7 L1259.5 134.5 L1260.6 135.0 L1261.6 133.4 L1262.6 133.0 L1263.7 129.6 L1264.7 124.9 L1265.7 122.1 L1266.9 124.3 L1268.1 125.2 L1269.0 121.2 L1270.0 118.5 L1271.0 116.0 L1271.9 111.2 L1273.1 116.6 L1274.3 119.0 L1275.4 121.5 L1276.6 126.8 L1277.8 130.0 L1278.9 131.4 L1280.0 131.5 L1281.0 128.8 L1282.0 128.3 L1283.2 126.4 L1284.4 125.2 L1285.5 121.6 L1286.7 117.4 L1288.2 112.8 L1289.4 116.4 L1290.6 117.4 L1291.6 115.6 L1292.6 115.5 L1293.7 112.8 L1294.7 113.0 L1295.7 110.7 L1296.8 111.2 L1297.8 111.4 L1298.9 107.7 L1299.9 108.1 L1301.1 107.8 L1302.2 109.7 L1303.3 111.2 L1304.3 110.4 L1305.3 112.8 L1306.5 112.4 L1307.7 112.8 L1308.7 110.6 L1309.7 110.6 L1310.8 109.7 L1311.8 109.7 L1312.8 108.8 L1313.9 106.6 L1314.9 105.7 L1315.9 106.3 L1317.0 108.1 L1318.0 108.6 L1319.0 105.7 L1320.1 106.6 L1321.1 105.9 L1322.1 105.4 L1323.2 106.6 L1324.2 104.8 L1325.2 104.1 L1326.3 105.0 L1327.4 99.2 L1328.6 92.6 L1329.8 94.9 L1330.9 95.7 L1332.1 101.7 L1333.3 106.6 L1334.4 106.8 L1335.6 105.0 L1336.6 105.5 L1337.7 104.7 L1338.7 105.0 L1339.6 107.0 L1340.6 109.5 L1341.5 110.1 L1342.4 110.5 L1343.4 112.8 L1344.4 107.8 L1345.4 106.8 L1346.5 101.9 L1347.5 97.5 L1348.5 92.2 L1349.6 87.9 L1350.7 90.6 L1351.9 92.6 L1353.1 99.8 L1354.2 106.6 L1355.8 97.3 L1356.9 102.0 L1358.1 106.6 L1359.3 99.8 L1360.4 95.7 L1361.6 98.4 L1362.8 101.9 L1363.9 95.4 L1365.1 89.5 L1366.0 81.6 L1367.0 75.5 L1368.2 97.3 L1369.4 94.5 L1370.5 89.5 L1371.7 92.4 L1372.9 95.7 L1374.0 100.1 L1375.2 103.5" stroke="#1e1e1e" stroke-width="2.9"/>
<path d="M187.2 591.0 L188.3 582.6 L189.4 570.6 L190.5 566.5 L191.6 558.9 L192.5 548.3 L193.5 541.3 L194.3 549.9 L195.2 561.8 L196.3 569.7 L197.4 574.9 L198.3 597.1 L199.2 617.3 L200.1 596.1 L201.1 573.5 L201.9 557.1 L202.7 542.7 L203.5 526.7 L204.5 554.9 L205.4 582.2 L206.5 598.6 L207.6 614.4 L208.6 595.5 L209.6 579.0 L210.6 561.8 L211.7 589.8 L212.7 618.7 L213.8 597.0 L214.9 573.5 L216.0 569.6 L217.1 561.8 L218.2 555.6 L219.3 545.7 L220.8 561.8 L221.9 586.1 L223.0 610.0 L223.9 610.3 L224.9 610.0 L225.9 611.4 L226.9 608.6 L227.8 607.6 L228.8 608.5 L229.8 614.7 L230.8 620.5 L231.7 627.5 L233.2 591.0 L234.3 587.6 L235.4 585.2 L236.5 578.0 L237.6 567.6 L238.5 565.3 L239.3 563.0 L240.2 560.3 L241.0 566.1 L241.9 572.1 L242.7 580.8 L244.1 563.2 L245.0 554.2 L245.8 545.0 L246.7 538.1 L247.5 529.7 L248.4 549.2 L249.3 564.7 L250.2 578.6 L251.2 589.7 L252.2 604.1 L253.2 594.5 L254.1 582.9 L255.1 570.6 L256.2 577.3 L257.3 582.2 L258.4 594.8 L259.5 604.1 L260.6 586.9 L261.7 567.6 L262.6 554.2 L263.6 538.4 L265.0 595.4 L266.1 580.9 L267.1 567.6 L268.0 549.1 L269.0 526.7 L270.4 615.8 L271.5 602.3 L272.6 585.2 L274.1 579.3 L275.2 564.8 L276.3 553.0 L277.4 568.6 L278.5 582.2 L279.9 585.2 L281.4 561.8 L282.5 545.9 L283.6 528.2 L284.7 540.5 L285.8 553.0 L286.9 567.8 L288.0 582.2 L289.4 607.1 L290.5 584.4 L291.6 561.8 L292.6 546.4 L293.6 527.7 L294.5 510.7 L295.6 541.9 L296.7 570.6 L297.8 572.2 L298.9 574.9 L299.9 572.1 L300.9 567.8 L301.8 561.8 L303.3 576.4 L304.8 538.4 L305.9 545.6 L307.0 553.0 L308.0 562.1 L309.1 570.6 L310.2 580.3 L311.3 586.6 L312.4 567.8 L313.5 547.2 L314.4 541.3 L315.3 535.5 L316.2 558.5 L317.2 583.7 L318.6 555.9 L319.6 554.3 L320.6 554.8 L321.6 553.0 L322.7 535.6 L323.7 520.9 L324.8 543.0 L325.9 561.8 L327.0 562.3 L328.1 564.7 L329.2 562.0 L330.3 555.9 L331.2 554.5 L332.1 556.4 L332.9 554.7 L333.8 553.2 L334.7 552.5 L335.6 537.8 L336.5 523.0 L337.8 479.5 L339.3 509.0 L340.9 509.0 L342.4 543.2 L343.7 557.1 L344.6 519.7 L345.5 481.1 L347.1 519.9 L348.6 530.7 L350.2 558.7 L351.7 571.1 L353.3 589.8 L354.5 583.9 L355.6 577.3 L356.8 586.7 L358.0 597.5 L359.5 564.9 L361.1 583.5 L362.2 577.7 L363.4 574.2 L364.3 580.5 L365.1 588.4 L366.0 592.9 L367.0 585.6 L368.0 577.3 L369.2 566.3 L370.4 558.7 L371.6 540.1 L372.5 546.0 L373.5 549.4 L374.6 545.6 L375.8 540.1 L377.4 518.3 L378.9 546.3 L380.5 558.7 L381.6 565.0 L382.8 568.0 L384.0 557.5 L385.1 549.4 L386.7 558.7 L387.8 551.9 L389.0 543.2 L390.2 538.3 L391.3 537.0 L392.1 564.9 L393.7 523.0 L394.8 522.0 L396.0 519.9 L397.2 515.1 L398.3 512.1 L399.9 505.9 L401.4 481.1 L402.2 468.6 L403.8 488.8 L404.5 509.0 L406.1 519.9 L406.9 543.2 L408.4 535.4 L410.0 518.3 L411.5 558.7 L412.5 570.8 L413.5 585.1 L415.1 571.1 L416.6 543.2 L417.5 554.0 L418.4 560.2 L419.3 571.1 L420.5 560.3 L421.6 549.4 L422.8 575.6 L423.9 599.1 L425.5 558.7 L426.7 576.3 L427.8 596.0 L429.0 568.4 L430.2 543.2 L431.3 557.9 L432.5 569.6 L433.5 566.7 L434.6 565.3 L435.6 561.8 L436.8 572.4 L437.9 586.6 L438.7 606.8 L440.2 574.2 L441.8 530.7 L443.0 522.4 L444.1 515.2 L445.1 531.0 L446.1 549.4 L447.7 568.0 L448.6 556.3 L449.6 543.2 L450.7 540.7 L451.9 541.6 L453.4 512.1 L454.6 507.7 L455.8 499.7 L457.3 515.2 L458.9 546.3 L460.4 530.7 L461.6 542.8 L462.8 558.7 L463.9 558.1 L465.1 555.6 L466.6 568.0 L467.8 556.8 L469.0 549.4 L470.5 546.3 L471.7 536.0 L472.9 527.6 L474.0 525.0 L475.2 519.9 L476.1 496.0 L477.0 474.8 L477.9 489.5 L478.7 506.7 L479.6 501.4 L480.5 494.1 L481.4 488.5 L482.3 557.9 L483.2 576.2 L484.1 596.3 L485.0 620.0 L486.0 611.9 L486.9 599.9 L487.8 583.3 L488.7 567.6 L489.6 554.2 L490.5 568.2 L491.4 583.5 L492.4 566.6 L493.3 548.8 L494.2 543.3 L495.1 536.0 L496.0 547.2 L496.9 561.6 L498.0 567.3 L499.1 574.3 L500.3 564.2 L501.5 557.9 L502.7 550.4 L503.9 543.3 L505.0 559.0 L506.1 572.5 L507.0 567.4 L507.9 561.9 L508.8 554.2 L509.7 544.3 L510.6 532.3 L511.5 511.8 L512.5 488.5 L513.7 512.2 L515.2 532.3 L516.1 573.3 L517.0 612.7 L517.9 606.5 L518.9 599.4 L519.8 594.4 L520.7 582.3 L521.6 568.9 L522.9 612.7 L524.1 586.4 L525.2 561.6 L526.2 554.9 L527.1 551.3 L528.0 548.0 L528.9 541.5 L529.8 543.0 L530.7 547.9 L531.6 550.6 L532.6 552.6 L533.5 555.5 L534.4 557.9 L535.3 565.6 L536.2 578.0 L537.1 585.3 L538.0 578.9 L539.0 574.8 L539.9 568.9 L540.8 564.9 L541.7 559.6 L542.6 557.9 L543.5 553.3 L544.4 546.7 L545.3 543.3 L546.3 543.3 L547.2 546.9 L548.1 554.8 L549.0 565.1 L549.9 576.2 L550.8 556.3 L551.7 539.6 L552.7 527.4 L553.6 514.0 L554.5 507.4 L555.4 502.6 L556.3 494.0 L557.2 493.3 L558.1 491.1 L559.0 486.6 L560.0 499.3 L560.9 514.0 L561.8 490.1 L562.7 466.5 L563.6 460.7 L564.5 457.2 L565.4 451.9 L566.4 461.6 L567.3 470.2 L568.6 517.7 L569.5 497.0 L570.4 473.9 L571.6 491.1 L572.8 506.7 L573.7 533.2 L574.6 561.6 L575.5 575.9 L576.4 590.8 L577.3 586.0 L578.2 579.1 L579.1 576.2 L580.1 569.4 L581.0 566.1 L581.9 561.6 L582.8 565.5 L583.7 572.5 L584.9 594.4 L586.1 614.5 L587.0 588.8 L587.9 565.2 L589.0 560.0 L590.1 557.9 L591.0 560.3 L591.9 564.1 L592.9 568.9 L593.8 560.4 L594.7 554.3 L595.6 546.9 L596.5 557.8 L597.4 568.1 L598.3 579.8 L599.2 576.7 L600.2 571.4 L601.1 568.9 L602.0 568.7 L602.9 567.1 L603.8 563.4 L605.0 570.7 L606.2 576.2 L607.1 586.9 L608.0 598.1 L609.1 580.8 L610.2 563.4 L611.1 547.3 L612.0 530.5 L613.1 503.1 L614.2 479.3 L615.7 539.6 L617.2 594.4 L618.2 574.0 L619.3 554.2 L620.3 544.6 L621.2 533.5 L622.1 525.0 L623.7 558.9 L625.1 584.4 L626.0 551.8 L626.9 522.3 L628.0 485.2 L629.1 445.6 L630.0 511.4 L631.2 527.3 L632.4 544.2 L633.7 584.4 L634.6 601.0 L635.5 617.3 L636.4 595.9 L637.4 571.5 L638.3 547.9 L639.7 533.3 L641.0 577.1 L642.2 589.1 L643.4 602.7 L644.5 589.1 L645.6 571.7 L646.5 574.2 L647.4 575.8 L648.3 580.8 L649.5 574.2 L650.7 566.2 L652.0 606.4 L652.9 559.1 L653.8 515.0 L654.7 554.4 L655.6 595.4 L656.5 556.6 L657.5 515.0 L658.6 513.9 L659.8 511.4 L661.1 493.1 L662.4 573.5 L663.2 576.6 L664.0 583.3 L664.9 588.2 L665.7 593.6 L666.6 586.2 L667.5 577.8 L668.4 571.7 L669.3 576.3 L670.2 578.5 L671.2 584.4 L672.3 572.6 L673.4 562.5 L674.5 569.3 L675.7 577.1 L676.9 597.1 L678.1 613.7 L679.2 591.0 L680.3 571.7 L681.2 576.9 L682.1 578.9 L683.0 584.4 L684.1 595.7 L685.1 605.9 L686.1 617.3 L687.3 598.9 L688.5 580.8 L689.4 572.1 L690.3 560.9 L691.3 551.6 L692.2 554.9 L693.1 559.8 L694.0 566.2 L694.9 553.5 L695.8 544.2 L696.7 510.9 L697.7 474.8 L699.1 580.8 L700.2 564.9 L701.3 547.9 L702.2 561.9 L703.1 573.0 L704.0 584.4 L705.0 575.8 L705.9 571.7 L706.8 564.3 L707.7 578.9 L708.6 592.0 L709.5 604.5 L710.4 581.7 L711.4 558.9 L712.3 527.2 L713.2 496.7 L714.1 484.7 L715.0 473.0 L715.9 491.5 L716.8 507.7 L718.3 533.3 L719.2 501.3 L720.1 471.2 L721.4 438.3 L722.3 432.9 L723.2 427.3 L724.4 437.3 L725.6 447.4 L726.5 475.7 L727.4 500.4 L728.5 476.0 L729.6 449.2 L731.1 427.3 L732.2 449.1 L733.3 467.5 L734.4 496.3 L735.5 522.3 L736.9 493.1 L737.9 463.6 L738.8 434.8 L739.7 407.2 L740.9 442.8 L742.1 478.5 L743.0 459.2 L743.9 441.9 L744.8 494.6 L745.7 547.9 L746.8 515.7 L747.9 482.1 L749.0 525.8 L750.1 566.2 L751.3 543.7 L752.5 520.5 L753.4 510.8 L754.3 497.0 L755.2 487.6 L756.7 460.2 L757.8 480.6 L758.9 502.2 L759.8 538.0 L760.7 569.8 L761.6 579.4 L762.5 591.4 L763.4 602.7 L764.3 592.5 L765.3 584.0 L766.2 577.1 L767.2 557.0 L768.2 535.7 L769.2 512.1 L770.8 527.4 L771.7 547.2 L772.7 565.8 L773.6 572.0 L774.6 581.1 L775.6 570.1 L776.5 559.6 L777.5 550.4 L778.4 547.3 L779.4 543.5 L780.3 538.9 L781.3 532.9 L782.3 527.4 L783.2 519.8 L784.2 512.1 L785.1 529.7 L786.1 550.4 L787.1 556.4 L788.0 562.0 L789.0 581.0 L789.9 596.5 L790.8 587.0 L791.7 573.8 L792.5 564.9 L793.4 554.3 L794.3 586.8 L795.3 617.6 L796.5 600.3 L797.6 585.0 L798.6 592.9 L799.5 597.6 L800.5 604.2 L801.4 593.5 L802.4 581.1 L803.4 567.3 L804.3 554.3 L805.3 540.9 L806.2 523.6 L807.1 542.6 L807.9 559.7 L808.7 577.3 L809.7 558.6 L810.7 542.8 L811.6 536.8 L812.6 531.3 L813.5 542.8 L814.5 558.1 L815.6 564.3 L816.8 569.6 L817.8 558.7 L818.7 544.7 L819.9 511.8 L821.0 481.4 L822.5 515.9 L824.1 542.8 L825.0 581.2 L826.0 619.5 L827.2 602.2 L828.3 585.0 L829.3 575.0 L830.2 566.6 L831.2 556.2 L832.1 572.3 L833.1 585.0 L834.1 592.2 L835.0 597.7 L836.0 604.2 L836.9 595.8 L837.9 583.0 L838.9 573.5 L839.8 582.1 L840.8 589.4 L841.7 596.5 L842.7 591.1 L843.6 585.1 L844.6 577.3 L845.6 576.8 L846.5 579.1 L847.5 579.2 L848.4 566.7 L849.4 555.6 L850.4 542.8 L851.4 525.5 L852.5 504.4 L853.3 537.6 L854.2 569.6 L855.2 572.8 L856.1 579.7 L857.1 585.0 L858.0 575.6 L859.0 566.0 L860.0 554.3 L860.9 547.2 L861.9 538.9 L862.8 547.9 L863.8 554.3 L864.6 565.1 L865.5 581.6 L866.3 592.6 L867.6 613.7 L868.6 584.9 L869.5 554.3 L870.4 553.4 L871.2 553.3 L872.0 550.4 L873.0 544.3 L874.0 535.1 L874.9 520.1 L875.9 508.2 L877.2 554.3 L878.2 586.2 L879.1 615.7 L880.0 600.1 L880.8 581.2 L881.6 565.8 L882.8 572.5 L883.9 577.3 L885.1 589.2 L886.2 600.3 L887.1 585.0 L887.9 573.4 L888.7 558.1 L889.7 543.9 L890.6 533.0 L891.6 519.8 L892.6 514.7 L893.5 510.2 L894.5 502.5 L895.4 496.7 L896.4 523.9 L897.4 550.4 L898.3 538.8 L899.3 526.2 L900.2 515.9 L901.2 525.5 L902.2 529.6 L903.1 538.9 L904.1 524.2 L905.0 513.3 L906.0 500.6 L907.3 460.3 L908.3 487.5 L909.3 512.1 L910.3 515.3 L911.3 518.2 L912.3 519.8 L913.1 584.4 L914.5 518.6 L915.4 528.2 L916.3 538.5 L917.2 547.4 L918.2 563.8 L919.2 524.1 L920.3 485.7 L921.3 507.4 L922.3 531.0 L923.4 521.7 L924.4 512.5 L925.2 530.1 L926.0 551.5 L927.1 566.3 L928.1 584.4 L929.1 599.8 L930.1 613.1 L931.2 597.4 L932.2 584.4 L933.1 597.0 L934.1 608.8 L935.1 619.3 L936.0 603.2 L936.8 588.5 L937.7 572.0 L938.6 588.9 L939.5 605.0 L940.4 619.3 L941.2 603.5 L942.1 589.2 L942.9 576.2 L943.9 569.5 L944.9 563.8 L946.0 557.5 L947.0 551.5 L947.8 529.1 L948.6 508.4 L949.4 511.2 L950.3 518.2 L951.1 522.7 L952.1 528.7 L953.1 531.0 L954.0 514.0 L954.8 498.2 L955.6 481.6 L956.6 462.7 L957.7 444.7 L958.7 471.1 L959.7 498.1 L960.7 479.0 L961.8 457.0 L962.8 489.1 L963.8 522.7 L964.9 531.5 L965.9 539.2 L966.9 547.3 L967.9 555.6 L969.0 549.6 L970.0 543.3 L970.8 524.4 L971.6 502.2 L972.7 483.0 L973.7 467.3 L974.5 494.2 L975.3 518.6 L976.8 572.0 L977.8 558.9 L978.8 548.0 L979.9 535.1 L980.7 530.8 L981.5 524.7 L982.3 518.6 L983.4 505.9 L984.4 494.0 L985.3 489.9 L986.2 481.4 L987.0 477.5 L988.1 466.8 L989.1 454.9 L990.1 470.9 L991.2 487.8 L992.2 505.4 L993.2 522.7 L994.2 544.7 L995.3 563.8 L996.3 580.4 L997.3 594.6 L998.4 609.5 L999.4 623.4 L1000.4 590.8 L1001.4 559.7 L1002.5 536.0 L1003.5 514.5 L1004.5 498.9 L1005.5 483.7 L1006.6 506.3 L1007.6 531.0 L1008.6 526.0 L1009.7 524.6 L1010.7 518.6 L1011.7 506.8 L1012.7 498.1 L1013.8 517.8 L1014.8 535.1 L1015.6 561.3 L1016.4 588.5 L1017.5 555.1 L1018.5 522.7 L1019.3 513.8 L1020.1 504.6 L1021.0 498.1 L1022.0 506.1 L1023.0 514.5 L1024.0 531.7 L1025.1 551.5 L1026.1 555.4 L1027.1 558.9 L1028.1 563.8 L1029.0 573.6 L1029.9 581.9 L1030.8 588.5 L1031.6 566.3 L1032.5 545.2 L1033.3 522.7 L1034.7 498.1 L1035.5 467.9 L1036.4 434.4 L1037.4 492.2 L1038.4 551.5 L1039.4 512.9 L1040.5 476.5 L1041.5 440.5 L1042.5 470.1 L1043.6 502.2 L1044.4 515.2 L1045.2 526.8 L1046.2 559.2 L1047.3 592.6 L1048.2 574.2 L1049.2 558.2 L1050.1 539.2 L1051.0 560.0 L1051.9 584.2 L1052.8 604.9 L1053.8 611.6 L1054.9 617.2 L1055.9 586.0 L1056.9 555.6 L1057.7 551.8 L1058.5 544.7 L1059.3 541.7 L1060.1 535.1 L1061.2 528.5 L1062.2 518.6 L1063.2 510.4 L1064.2 507.1 L1065.3 504.0 L1066.3 498.1 L1067.3 486.7 L1068.4 473.4 L1069.8 518.6 L1070.7 508.7 L1071.6 498.2 L1072.5 485.7 L1073.5 499.8 L1074.5 511.4 L1075.5 522.7 L1076.4 538.3 L1077.2 549.3 L1078.0 563.8 L1078.9 556.1 L1079.8 548.1 L1080.7 539.2 L1081.7 497.5 L1082.7 457.0 L1083.8 520.3 L1084.8 584.4 L1085.8 644.0 L1086.6 614.9 L1087.5 588.5 L1088.4 569.8 L1089.4 546.8 L1090.3 526.8 L1091.2 502.1 L1092.1 479.1 L1093.0 452.9 L1094.0 478.3 L1095.1 506.3 L1096.5 602.9 L1097.3 570.8 L1098.1 535.1 L1099.0 508.9 L1099.8 485.7 L1100.8 500.3 L1101.8 518.6 L1102.7 507.1 L1103.5 496.1 L1104.3 485.7 L1105.1 503.9 L1106.0 520.2 L1106.8 535.1 L1107.8 556.7 L1108.8 576.2 L1109.7 583.6 L1110.5 591.7 L1111.3 598.2 L1112.1 607.0 L1112.9 595.3 L1113.8 580.5 L1114.6 567.9 L1115.6 558.9 L1116.6 552.0 L1117.7 543.3 L1118.6 535.0 L1119.4 528.8 L1120.3 522.7 L1121.4 502.9 L1122.4 479.6 L1123.4 505.7 L1124.4 535.1 L1125.3 543.2 L1126.1 553.1 L1126.9 563.8 L1127.9 558.7 L1129.0 555.3 L1130.0 551.5 L1131.0 558.7 L1132.0 567.3 L1133.1 576.2 L1134.1 581.3 L1135.1 587.4 L1136.2 594.6 L1137.2 590.3 L1138.2 584.4 L1139.2 580.3 L1140.3 574.3 L1141.3 570.4 L1142.3 563.8 L1143.4 578.5 L1144.4 596.7 L1145.3 588.4 L1146.2 584.4 L1147.0 576.2 L1147.9 580.0 L1148.7 585.5 L1149.5 588.5 L1150.5 580.2 L1151.6 574.9 L1152.6 567.9 L1153.5 561.1 L1154.4 550.9 L1155.3 543.3 L1156.1 552.6 L1156.9 560.2 L1157.7 567.9 L1158.8 575.7 L1159.8 586.4 L1160.8 592.6 L1161.8 585.3 L1162.9 578.8 L1163.9 572.0 L1164.9 576.6 L1166.0 579.5 L1167.0 584.4 L1167.9 576.1 L1168.8 565.6 L1169.6 555.6 L1170.6 560.1 L1171.6 564.0 L1172.5 567.9 L1173.4 558.9 L1174.3 548.0 L1175.2 535.1 L1176.2 565.2 L1177.3 592.6 L1178.3 571.9 L1179.3 551.5 L1180.3 534.7 L1181.4 518.6 L1182.3 524.2 L1183.1 527.8 L1184.0 535.1 L1185.5 502.2 L1186.4 507.5 L1187.3 517.9 L1188.1 522.7 L1189.0 532.2 L1189.8 546.4 L1190.6 555.6 L1191.6 560.4 L1192.7 565.5 L1193.7 567.9 L1194.5 578.6 L1195.3 592.6 L1196.2 576.7 L1197.0 563.6 L1197.8 547.4 L1198.7 542.7 L1199.6 540.3 L1200.5 539.2 L1201.9 576.2 L1202.7 596.0 L1203.6 591.8 L1204.5 587.6 L1205.3 585.3 L1206.4 572.3 L1207.5 562.2 L1208.6 578.0 L1209.8 592.4 L1210.7 584.9 L1211.6 582.4 L1212.5 574.6 L1213.4 570.8 L1214.2 565.7 L1215.1 543.4 L1216.0 524.8 L1216.9 507.7 L1217.8 487.4 L1218.7 501.5 L1219.6 517.7 L1220.5 532.7 L1221.4 547.9 L1222.3 565.1 L1223.1 581.7 L1224.0 564.3 L1224.9 549.7 L1225.8 535.5 L1226.7 521.2 L1227.8 504.3 L1228.8 490.9 L1230.3 539.0 L1231.7 617.3 L1232.8 601.9 L1233.8 588.9 L1234.7 574.5 L1235.6 556.8 L1236.5 570.6 L1237.4 581.7 L1238.3 575.9 L1239.2 570.6 L1240.1 563.9 L1241.2 542.3 L1242.4 517.7 L1243.3 535.8 L1244.2 556.8 L1245.0 565.1 L1245.8 572.0 L1246.6 581.7 L1248.1 539.0 L1249.5 494.5 L1250.4 520.6 L1251.3 549.7 L1252.3 533.9 L1253.4 521.2 L1254.3 534.3 L1255.2 549.7 L1256.1 559.5 L1257.0 572.8 L1257.9 554.8 L1258.8 539.0 L1259.6 532.6 L1260.5 527.6 L1261.4 521.2 L1262.7 507.0 L1264.1 539.0 L1265.0 527.1 L1265.9 512.3 L1266.8 501.5 L1267.7 488.3 L1268.5 474.9 L1269.4 485.6 L1270.3 496.3 L1271.2 528.2 L1272.1 556.8 L1273.0 564.4 L1273.9 574.6 L1274.8 576.6 L1275.7 583.0 L1276.6 585.3 L1277.4 587.6 L1278.3 587.7 L1279.2 590.6 L1280.1 594.3 L1281.0 598.1 L1281.9 603.1 L1283.0 611.7 L1284.0 620.9 L1285.2 608.2 L1286.3 596.0 L1287.5 589.3 L1288.7 583.5 L1289.5 588.9 L1290.3 593.1 L1291.2 596.0 L1292.0 601.6 L1292.8 606.6 L1293.6 611.1 L1294.4 617.3 L1295.2 614.8 L1296.1 612.2 L1297.0 606.7 L1298.2 598.5 L1299.3 592.4 L1300.2 600.4 L1301.0 607.5 L1301.8 613.8 L1303.0 607.3 L1304.1 599.5 L1305.0 592.9 L1305.9 590.3 L1306.8 585.3 L1307.7 581.4 L1308.6 578.7 L1309.5 577.6 L1310.4 574.6 L1311.3 578.8 L1312.2 582.2 L1313.0 585.3 L1313.9 589.8 L1314.8 593.2 L1315.7 596.0 L1316.6 592.3 L1317.5 587.1 L1318.4 585.3 L1319.3 597.1 L1320.2 606.7 L1321.1 584.8 L1322.0 560.4 L1323.2 531.9 L1324.1 549.3 L1325.0 563.9 L1325.9 576.2 L1326.9 585.8 L1327.8 599.5 L1328.9 607.2 L1330.0 617.3 L1331.4 644.1 L1332.3 625.6 L1333.2 610.2 L1334.1 604.5 L1334.9 597.9 L1335.8 590.3 L1336.7 585.3 L1337.8 616.5 L1338.9 644.1 L1339.9 625.5 L1341.0 603.1 L1342.2 590.5 L1343.3 574.6 L1344.5 564.7 L1345.6 555.0 L1346.7 574.7 L1347.8 596.0 L1348.7 584.1 L1349.5 574.6 L1350.6 564.3 L1351.7 551.5 L1352.6 558.5 L1353.5 563.9 L1354.6 598.7 L1355.8 635.2 L1356.7 624.3 L1357.6 610.2 L1358.6 599.8 L1359.7 588.9 L1360.9 606.3 L1362.0 624.5 L1362.9 606.3 L1363.8 588.9 L1364.9 583.5 L1365.9 576.4 L1367.1 587.8 L1368.2 599.5 L1369.1 603.7 L1370.0 605.2 L1370.9 610.2" stroke="#1e1e1e" stroke-width="1.8"/>
<path d="M187.2 567.6 L188.2 567.5 L189.2 561.8 L190.2 561.1 L191.2 564.7 L192.2 563.3 L193.2 567.6 L194.2 570.6 L195.2 567.6 L196.2 562.8 L197.2 561.8 L198.2 560.5 L199.2 563.7 L200.2 569.5 L201.2 573.5 L202.2 579.8 L203.2 588.1 L204.2 584.4 L205.2 576.0 L206.2 577.5 L207.2 582.2 L208.2 589.0 L209.2 590.3 L210.2 586.4 L211.2 584.8 L212.2 581.0 L213.2 576.0 L214.2 575.9 L215.2 570.6 L216.2 573.1 L217.2 573.5 L218.2 576.0 L219.2 573.5 L220.2 574.9 L221.2 573.8 L222.2 588.5 L223.2 608.5 L224.2 611.7 L225.2 610.3 L226.2 610.8 L227.2 610.3 L228.2 609.1 L229.2 610.3 L230.2 607.9 L231.2 609.3 L232.2 601.5 L233.2 589.5 L234.2 587.8 L235.2 585.2 L236.2 583.0 L237.2 575.7 L238.2 575.5 L239.2 572.0 L240.2 571.5 L241.2 565.4 L242.2 564.0 L243.2 561.8 L244.2 563.0 L245.2 561.8 L246.2 563.9 L247.2 564.7 L248.2 566.2 L249.2 570.6 L250.2 574.8 L251.2 573.5 L252.2 575.9 L253.2 580.5 L254.2 583.9 L255.2 584.0 L256.2 586.7 L257.2 584.0 L258.2 582.6 L259.2 579.3 L260.2 577.2 L261.2 579.3 L262.2 580.0 L263.2 576.8 L264.2 575.0 L265.2 571.3 L266.2 569.4 L267.2 571.3 L268.2 570.2 L269.2 574.6 L270.2 573.8 L271.2 572.7 L272.2 569.9 L273.2 572.7 L274.2 578.6 L275.2 579.3 L276.2 576.1 L277.2 572.7 L278.2 567.4 L279.2 561.8 L280.2 560.1 L281.2 559.6 L282.2 561.7 L283.2 561.8 L284.2 567.2 L285.2 567.6 L286.2 562.8 L287.2 560.3 L288.2 555.9 L289.2 553.0 L290.2 557.2 L291.2 560.3 L292.2 564.8 L293.2 571.6 L294.2 571.2 L295.2 569.7 L296.2 566.0 L297.2 561.8 L298.2 562.7 L299.2 564.4 L300.2 565.5 L301.2 564.4 L302.2 565.5 L303.2 566.2 L304.2 562.8 L305.2 564.4 L306.2 567.4 L307.2 564.4 L308.2 560.0 L309.2 557.4 L310.2 557.0 L311.2 557.4 L312.2 561.2 L313.2 566.2 L314.2 563.6 L315.2 555.9 L316.2 557.8 L317.2 554.2 L318.2 550.8 L319.2 547.2 L320.2 549.8 L321.2 553.6 L322.2 551.5 L323.2 554.2 L324.2 556.9 L325.2 554.8 L326.2 552.7 L327.2 554.6 L328.2 554.9 L329.2 554.6 L330.2 553.7 L331.2 554.6 L332.2 553.2 L333.2 553.8 L334.2 547.4 L335.2 542.7 L336.2 535.4 L337.2 531.8 L338.2 524.6 L339.2 523.0 L340.2 516.2 L341.2 509.0 L342.2 510.8 L343.2 509.0 L344.2 517.1 L345.2 523.5 L346.2 525.8 L347.2 531.8 L348.2 541.7 L349.2 549.4 L350.2 553.4 L351.2 562.8 L352.2 569.5 L353.2 577.3 L354.2 579.3 L355.2 577.3 L356.2 581.4 L357.2 580.4 L358.2 580.6 L359.2 581.2 L360.2 583.5 L361.2 581.7 L362.2 581.4 L363.2 581.2 L364.2 579.4 L365.2 577.3 L366.2 577.8 L367.2 577.3 L368.2 577.9 L369.2 572.7 L370.2 562.5 L371.2 549.4 L372.2 547.7 L373.2 546.3 L374.2 547.6 L375.2 546.3 L376.2 547.1 L377.2 546.3 L378.2 546.9 L379.2 549.4 L380.2 552.6 L381.2 552.5 L382.2 555.2 L383.2 554.0 L384.2 554.9 L385.2 554.6 L386.2 556.2 L387.2 552.5 L388.2 548.0 L389.2 549.4 L390.2 544.7 L391.2 540.1 L392.2 539.3 L393.2 537.0 L394.2 527.8 L395.2 520.7 L396.2 516.4 L397.2 516.0 L398.2 514.2 L399.2 510.0 L400.2 509.6 L401.2 510.0 L402.2 508.7 L403.2 510.0 L404.2 508.6 L405.2 512.6 L406.2 521.1 L407.2 524.0 L408.2 530.1 L409.2 538.0 L410.2 539.3 L411.2 545.2 L412.2 548.1 L413.2 554.3 L414.2 555.8 L415.2 560.2 L416.2 563.2 L417.2 561.8 L418.2 561.7 L419.2 565.5 L420.2 562.3 L421.2 561.8 L422.2 563.3 L423.2 569.6 L424.2 569.4 L425.2 569.6 L426.2 567.8 L427.2 569.6 L428.2 567.9 L429.2 568.0 L430.2 568.9 L431.2 567.0 L432.2 570.0 L433.2 568.0 L434.2 569.5 L435.2 567.0 L436.2 563.6 L437.2 565.7 L438.2 563.7 L439.2 563.1 L440.2 561.4 L441.2 555.6 L442.2 550.7 L443.2 551.4 L444.2 545.5 L445.2 543.2 L446.2 542.3 L447.2 541.6 L448.2 540.9 L449.2 541.6 L450.2 543.1 L451.2 541.6 L452.2 538.0 L453.2 531.8 L454.2 531.0 L455.2 530.7 L456.2 529.2 L457.2 530.7 L458.2 531.7 L459.2 535.9 L460.2 537.1 L461.2 541.1 L462.2 543.8 L463.2 551.7 L464.2 552.7 L465.2 551.7 L466.2 550.8 L467.2 554.0 L468.2 553.5 L469.2 548.3 L470.2 545.9 L471.2 541.6 L472.2 532.0 L473.2 527.6 L474.2 523.8 L475.2 519.9 L476.2 513.0 L477.2 504.9 L478.2 502.1 L479.2 504.9 L480.2 504.8 L481.2 504.9 L482.2 531.3 L483.2 563.4 L484.2 569.5 L485.2 572.5 L486.2 571.4 L487.2 576.2 L488.2 575.7 L489.2 573.7 L490.2 571.5 L491.2 563.4 L492.2 565.8 L493.2 564.0 L494.2 561.4 L495.2 562.0 L496.2 561.4 L497.2 560.3 L498.2 555.1 L499.2 554.2 L500.2 557.2 L501.2 562.0 L502.2 564.2 L503.2 562.0 L504.2 561.9 L505.2 557.9 L506.2 551.3 L507.2 550.6 L508.2 548.0 L509.2 546.9 L510.2 547.8 L511.2 546.9 L512.2 545.0 L513.2 546.9 L514.2 548.8 L515.2 546.9 L516.2 564.5 L517.2 577.4 L518.2 582.6 L519.2 587.1 L520.2 585.7 L521.2 585.9 L522.2 583.7 L523.2 577.4 L524.2 568.1 L525.2 558.7 L526.2 553.9 L527.2 552.9 L528.2 551.6 L529.2 552.9 L530.2 551.2 L531.2 553.5 L532.2 555.5 L533.2 553.5 L534.2 558.5 L535.2 563.4 L536.2 564.6 L537.2 563.4 L538.2 565.3 L539.2 563.4 L540.2 565.7 L541.2 562.3 L542.2 558.6 L543.2 558.6 L544.2 557.7 L545.2 557.9 L546.2 557.2 L547.2 552.1 L548.2 550.7 L549.2 546.2 L550.2 544.1 L551.2 543.3 L552.2 529.6 L553.2 514.0 L554.2 508.2 L555.2 506.0 L556.2 500.0 L557.2 498.0 L558.2 492.5 L559.2 492.5 L560.2 489.6 L561.2 488.1 L562.2 485.8 L563.2 486.6 L564.2 480.4 L565.2 473.9 L566.2 476.7 L567.2 473.9 L568.2 479.1 L569.2 488.5 L570.2 493.8 L571.2 498.5 L572.2 514.0 L573.2 525.0 L574.2 546.8 L575.2 567.4 L576.2 568.3 L577.2 568.9 L578.2 572.3 L579.2 572.5 L580.2 572.9 L581.2 579.1 L582.2 578.9 L583.2 573.2 L584.2 571.4 L585.2 567.4 L586.2 568.1 L587.2 565.2 L588.2 566.8 L589.2 564.5 L590.2 561.0 L591.2 562.3 L592.2 559.7 L593.2 562.3 L594.2 561.5 L595.2 564.5 L596.2 565.6 L597.2 566.7 L598.2 569.3 L599.2 566.6 L600.2 570.2 L601.2 568.9 L602.2 570.4 L603.2 573.0 L604.2 572.7 L605.2 571.1 L606.2 570.3 L607.2 566.7 L608.2 564.6 L609.2 564.5 L610.2 566.8 L611.2 563.4 L612.2 566.0 L613.2 563.4 L614.2 554.3 L615.2 542.6 L616.2 543.5 L617.2 539.6 L618.2 545.4 L619.2 547.6 L620.2 548.9 L621.2 548.4 L622.2 544.6 L623.2 543.0 L624.2 538.4 L625.2 536.3 L626.2 532.0 L627.2 530.9 L628.2 534.3 L629.2 543.0 L630.2 545.6 L631.2 543.0 L632.2 542.4 L633.2 544.2 L634.2 550.2 L635.2 561.8 L636.2 567.6 L637.2 575.7 L638.2 577.7 L639.2 584.4 L640.2 580.5 L641.2 577.1 L642.2 576.1 L643.2 577.1 L644.2 575.2 L645.2 577.1 L646.2 577.9 L647.2 579.0 L648.2 576.9 L649.2 575.9 L650.2 573.8 L651.2 573.5 L652.2 572.9 L653.2 568.6 L654.2 554.0 L655.2 541.8 L656.2 542.1 L657.2 541.8 L658.2 544.1 L659.2 541.8 L660.2 558.0 L661.2 568.6 L662.2 570.7 L663.2 574.2 L664.2 572.8 L665.2 576.8 L666.2 580.8 L667.2 579.3 L668.2 579.2 L669.2 579.0 L670.2 576.4 L671.2 577.1 L672.2 574.9 L673.2 577.1 L674.2 576.5 L675.2 579.0 L676.2 577.8 L677.2 579.0 L678.2 578.4 L679.2 582.2 L680.2 584.7 L681.2 592.7 L682.2 594.3 L683.2 589.9 L684.2 588.0 L685.2 582.2 L686.2 579.2 L687.2 580.8 L688.2 577.8 L689.2 574.9 L690.2 570.9 L691.2 563.2 L692.2 561.1 L693.2 558.9 L694.2 555.5 L695.2 557.4 L696.2 555.8 L697.2 556.1 L698.2 558.6 L699.2 562.5 L700.2 565.9 L701.2 564.3 L702.2 568.9 L703.2 572.4 L704.2 572.2 L705.2 572.6 L706.2 573.3 L707.2 572.4 L708.2 569.7 L709.2 572.4 L710.2 566.7 L711.2 558.9 L712.2 541.5 L713.2 520.5 L714.2 515.1 L715.2 507.7 L716.2 499.0 L717.2 491.9 L718.2 481.1 L719.2 473.0 L720.2 466.1 L721.2 465.1 L722.2 461.0 L723.2 462.0 L724.2 452.6 L725.2 447.4 L726.2 444.6 L727.2 442.4 L728.2 451.6 L729.2 457.5 L730.2 460.8 L731.2 467.5 L732.2 467.3 L733.2 467.5 L734.2 459.2 L735.2 449.2 L736.2 455.7 L737.2 460.7 L738.2 461.2 L739.2 467.5 L740.2 469.4 L741.2 466.3 L742.2 471.6 L743.2 475.9 L744.2 477.8 L745.2 482.1 L746.2 496.5 L747.2 513.9 L748.2 515.0 L749.2 513.9 L750.2 516.5 L751.2 513.9 L752.2 507.1 L753.2 502.2 L754.2 504.2 L755.2 507.3 L756.2 511.0 L757.2 513.9 L758.2 517.4 L759.2 524.8 L760.2 545.0 L761.2 566.3 L762.2 568.8 L763.2 566.3 L764.2 566.6 L765.2 566.3 L766.2 568.0 L767.2 565.8 L768.2 564.4 L769.2 565.8 L770.2 563.4 L771.2 556.6 L772.2 554.1 L773.2 548.1 L774.2 546.5 L775.2 548.1 L776.2 548.3 L777.2 548.1 L778.2 546.9 L779.2 543.5 L780.2 542.8 L781.2 541.2 L782.2 541.8 L783.2 541.2 L784.2 539.7 L785.2 541.2 L786.2 550.0 L787.2 558.1 L788.2 559.2 L789.2 562.0 L790.2 570.5 L791.2 575.4 L792.2 579.4 L793.2 585.0 L794.2 591.7 L795.2 592.6 L796.2 591.2 L797.2 588.8 L798.2 587.2 L799.2 588.8 L800.2 588.3 L801.2 588.8 L802.2 580.8 L803.2 577.3 L804.2 572.0 L805.2 563.9 L806.2 554.4 L807.2 550.4 L808.2 550.4 L809.2 549.2 L810.2 548.7 L811.2 550.4 L812.2 554.0 L813.2 554.3 L814.2 547.2 L815.2 544.7 L816.2 542.9 L817.2 538.9 L818.2 542.1 L819.2 542.8 L820.2 542.1 L821.2 544.7 L822.2 542.5 L823.2 544.7 L824.2 549.7 L825.2 556.2 L826.2 563.2 L827.2 568.3 L828.2 572.3 L829.2 579.2 L830.2 582.6 L831.2 591.9 L832.2 588.1 L833.2 585.0 L834.2 586.8 L835.2 585.0 L836.2 584.8 L837.2 588.8 L838.2 591.5 L839.2 588.8 L840.2 586.9 L841.2 585.0 L842.2 580.1 L843.2 579.2 L844.2 576.4 L845.2 578.5 L846.2 577.1 L847.2 577.3 L848.2 573.3 L849.2 569.6 L850.2 567.7 L851.2 569.6 L852.2 565.6 L853.2 566.6 L854.2 562.0 L855.2 557.3 L856.2 554.3 L857.2 554.3 L858.2 558.7 L859.2 563.9 L860.2 564.9 L861.2 566.6 L862.2 567.7 L863.2 566.6 L864.2 560.9 L865.2 554.3 L866.2 552.6 L867.2 554.3 L868.2 552.4 L869.2 554.3 L870.2 555.0 L871.2 551.4 L872.2 549.2 L873.2 552.4 L874.2 550.1 L875.2 552.4 L876.2 550.7 L877.2 554.3 L878.2 564.9 L879.2 571.5 L880.2 574.7 L881.2 577.3 L882.2 580.3 L883.2 578.3 L884.2 577.1 L885.2 574.4 L886.2 570.6 L887.2 568.7 L888.2 559.1 L889.2 550.4 L890.2 542.9 L891.2 532.5 L892.2 529.5 L893.2 529.7 L894.2 526.9 L895.2 520.5 L896.2 520.0 L897.2 520.5 L898.2 519.3 L899.2 523.6 L900.2 522.6 L901.2 523.6 L902.2 523.6 L903.2 522.8 L904.2 517.2 L905.2 515.9 L906.2 518.3 L907.2 515.9 L908.2 518.5 L909.2 515.9 L910.2 516.0 L911.2 515.9 L912.2 520.3 L913.2 519.8 L914.2 520.9 L915.2 519.8 L916.2 522.5 L917.2 524.8 L918.2 522.7 L919.2 524.8 L920.2 530.2 L921.2 530.1 L922.2 533.1 L923.2 531.0 L924.2 530.7 L925.2 531.0 L926.2 548.8 L927.2 567.9 L928.2 577.1 L929.2 591.4 L930.2 592.2 L931.2 591.6 L932.2 593.7 L933.2 591.6 L934.2 595.3 L935.2 600.4 L936.2 597.8 L937.2 597.7 L938.2 595.0 L939.2 590.9 L940.2 588.0 L941.2 581.5 L942.2 574.8 L943.2 572.0 L944.2 565.1 L945.2 560.7 L946.2 549.8 L947.2 537.1 L948.2 529.2 L949.2 526.8 L950.2 524.9 L951.2 519.1 L952.2 514.4 L953.2 511.9 L954.2 504.9 L955.2 494.0 L956.2 487.5 L957.2 481.6 L958.2 479.6 L959.2 481.6 L960.2 480.3 L961.2 484.7 L962.2 493.2 L963.2 506.3 L964.2 515.1 L965.2 526.8 L966.2 528.4 L967.2 526.8 L968.2 530.0 L969.2 529.6 L970.2 533.1 L971.2 535.1 L972.2 538.0 L973.2 543.3 L974.2 537.4 L975.2 529.6 L976.2 527.6 L977.2 522.7 L978.2 521.9 L979.2 522.7 L980.2 518.2 L981.2 518.6 L982.2 512.3 L983.2 506.3 L984.2 495.4 L985.2 487.8 L986.2 485.7 L987.2 487.4 L988.2 486.9 L989.2 487.8 L990.2 485.3 L991.2 487.8 L992.2 507.7 L993.2 522.7 L994.2 542.0 L995.2 563.8 L996.2 566.2 L997.2 563.8 L998.2 563.2 L999.2 559.7 L1000.2 556.8 L1001.2 559.7 L1002.2 546.7 L1003.2 528.9 L1004.2 528.7 L1005.2 524.8 L1006.2 521.9 L1007.2 518.6 L1008.2 518.9 L1009.2 514.5 L1010.2 517.5 L1011.2 520.7 L1012.2 519.9 L1013.2 524.8 L1014.2 519.6 L1015.2 518.6 L1016.2 515.4 L1017.2 514.5 L1018.2 521.3 L1019.2 523.8 L1020.2 533.4 L1021.2 539.2 L1022.2 533.8 L1023.2 533.0 L1024.2 541.4 L1025.2 551.5 L1026.2 551.2 L1027.2 555.6 L1028.2 554.0 L1029.2 555.6 L1030.2 554.7 L1031.2 555.6 L1032.2 546.9 L1033.2 539.2 L1034.2 524.7 L1035.2 514.5 L1036.2 504.7 L1037.2 492.9 L1038.2 491.4 L1039.2 492.9 L1040.2 496.8 L1041.2 496.0 L1042.2 507.2 L1043.2 518.6 L1044.2 518.2 L1045.2 518.6 L1046.2 535.8 L1047.2 549.9 L1048.2 556.7 L1049.2 565.5 L1050.2 569.4 L1051.2 576.2 L1052.2 571.4 L1053.2 571.2 L1054.2 562.2 L1055.2 555.6 L1056.2 554.0 L1057.2 555.6 L1058.2 550.2 L1059.2 541.9 L1060.2 533.5 L1061.2 526.8 L1062.2 519.9 L1063.2 510.4 L1064.2 507.0 L1065.2 506.3 L1066.2 500.6 L1067.2 500.1 L1068.2 499.0 L1069.2 500.1 L1070.2 498.9 L1071.2 498.9 L1072.2 504.6 L1073.2 505.5 L1074.2 510.2 L1075.2 518.6 L1076.2 515.9 L1077.2 516.6 L1078.2 517.6 L1079.2 522.7 L1080.2 531.9 L1081.2 544.1 L1082.2 551.6 L1083.2 553.6 L1084.2 551.4 L1085.2 544.1 L1086.2 533.8 L1087.2 526.8 L1088.2 524.1 L1089.2 526.8 L1090.2 532.9 L1091.2 539.2 L1092.2 533.5 L1093.2 526.8 L1094.2 512.2 L1095.2 502.2 L1096.2 501.7 L1097.2 502.2 L1098.2 503.8 L1099.2 502.2 L1100.2 503.3 L1101.2 510.4 L1102.2 511.7 L1103.2 510.4 L1104.2 511.5 L1105.2 510.4 L1106.2 529.6 L1107.2 545.3 L1108.2 556.6 L1109.2 567.9 L1110.2 566.7 L1111.2 565.9 L1112.2 566.0 L1113.2 565.9 L1114.2 560.6 L1115.2 559.7 L1116.2 551.6 L1117.2 543.3 L1118.2 537.6 L1119.2 535.1 L1120.2 534.0 L1121.2 535.1 L1122.2 532.3 L1123.2 535.1 L1124.2 536.6 L1125.2 542.3 L1126.2 546.3 L1127.2 555.6 L1128.2 557.9 L1129.2 559.7 L1130.2 560.2 L1131.2 563.8 L1132.2 570.3 L1133.2 576.2 L1134.2 577.7 L1135.2 579.2 L1136.2 577.6 L1137.2 579.2 L1138.2 578.7 L1139.2 582.7 L1140.2 583.2 L1141.2 582.7 L1142.2 582.5 L1143.2 580.3 L1144.2 581.4 L1145.2 580.3 L1146.2 580.3 L1147.2 580.3 L1148.2 580.7 L1149.2 580.3 L1150.2 574.7 L1151.2 574.8 L1152.2 571.9 L1153.2 571.4 L1154.2 573.2 L1155.2 571.4 L1156.2 570.6 L1157.2 571.4 L1158.2 570.4 L1159.2 574.1 L1160.2 575.7 L1161.2 578.2 L1162.2 580.4 L1163.2 578.6 L1164.2 576.2 L1165.2 578.6 L1166.2 574.0 L1167.2 574.1 L1168.2 570.6 L1169.2 567.1 L1170.2 567.3 L1171.2 563.0 L1172.2 561.7 L1173.2 561.8 L1174.2 558.4 L1175.2 558.1 L1176.2 556.4 L1177.2 551.5 L1178.2 544.1 L1179.2 541.6 L1180.2 537.1 L1181.2 535.1 L1182.2 531.5 L1183.2 526.8 L1184.2 528.9 L1185.2 526.8 L1186.2 529.8 L1187.2 528.5 L1188.2 532.8 L1189.2 539.2 L1190.2 547.0 L1191.2 557.7 L1192.2 557.4 L1193.2 558.7 L1194.2 555.9 L1195.2 557.7 L1196.2 558.4 L1197.2 561.8 L1198.2 567.5 L1199.2 570.0 L1200.2 574.7 L1201.2 573.7 L1202.2 570.3 L1203.2 569.7 L1204.2 572.1 L1205.2 579.5 L1206.2 582.1 L1207.2 581.7 L1208.2 582.8 L1209.2 578.2 L1210.2 577.7 L1211.2 573.7 L1212.2 570.7 L1213.2 568.7 L1214.2 561.8 L1215.2 552.1 L1216.2 551.6 L1217.2 547.9 L1218.2 544.6 L1219.2 538.4 L1220.2 534.5 L1221.2 530.7 L1222.2 532.2 L1223.2 527.7 L1224.2 534.5 L1225.2 537.8 L1226.2 541.3 L1227.2 547.9 L1228.2 548.4 L1229.2 549.7 L1230.2 550.8 L1231.2 556.8 L1232.2 564.4 L1233.2 573.4 L1234.2 575.3 L1235.2 573.4 L1236.2 572.2 L1237.2 571.1 L1238.2 568.2 L1239.2 565.1 L1240.2 566.2 L1241.2 563.9 L1242.2 559.7 L1243.2 560.4 L1244.2 551.2 L1245.2 543.8 L1246.2 541.3 L1247.2 539.0 L1248.2 539.6 L1249.2 540.2 L1250.2 541.3 L1251.2 540.2 L1252.2 542.2 L1253.2 539.0 L1254.2 539.0 L1255.2 535.5 L1256.2 535.7 L1257.2 535.5 L1258.2 534.8 L1259.2 531.9 L1260.2 530.3 L1261.2 528.3 L1262.2 527.7 L1263.2 521.2 L1264.2 518.2 L1265.2 514.1 L1266.2 513.8 L1267.2 512.3 L1268.2 516.1 L1269.2 521.2 L1270.2 520.7 L1271.2 521.2 L1272.2 546.5 L1273.2 568.7 L1274.2 574.1 L1275.2 581.0 L1276.2 586.1 L1277.2 586.4 L1278.2 589.9 L1279.2 590.6 L1280.2 595.9 L1281.2 595.6 L1282.2 597.0 L1283.2 596.0 L1284.2 596.4 L1285.2 596.0 L1286.2 597.5 L1287.2 600.6 L1288.2 598.5 L1289.2 602.2 L1290.2 603.2 L1291.2 602.2 L1292.2 604.2 L1293.2 603.1 L1294.2 604.4 L1295.2 603.1 L1296.2 606.4 L1297.2 606.7 L1298.2 603.9 L1299.2 606.7 L1300.2 606.0 L1301.2 603.1 L1302.2 598.6 L1303.2 596.7 L1304.2 593.2 L1305.2 591.0 L1306.2 590.4 L1307.2 585.3 L1308.2 584.7 L1309.2 585.3 L1310.2 585.1 L1311.2 585.3 L1312.2 582.6 L1313.2 585.3 L1314.2 584.5 L1315.2 587.4 L1316.2 586.8 L1317.2 589.6 L1318.2 587.9 L1319.2 589.6 L1320.2 587.6 L1321.2 585.3 L1322.2 582.6 L1323.2 585.3 L1324.2 582.8 L1325.2 585.3 L1326.2 586.4 L1327.2 592.4 L1328.2 599.2 L1329.2 603.1 L1330.2 605.9 L1331.2 603.1 L1332.2 606.4 L1333.2 606.7 L1334.2 609.9 L1335.2 612.9 L1336.2 605.8 L1337.2 603.1 L1338.2 601.2 L1339.2 596.0 L1340.2 590.2 L1341.2 588.9 L1342.2 586.3 L1343.2 588.9 L1344.2 582.3 L1345.2 575.5 L1346.2 574.8 L1347.2 569.7 L1348.2 568.1 L1349.2 568.8 L1350.2 574.4 L1351.2 575.5 L1352.2 579.6 L1353.2 585.7 L1354.2 592.8 L1355.2 594.2 L1356.2 598.3 L1357.2 599.5 L1358.2 602.3 L1359.2 600.7 L1360.2 603.0 L1361.2 599.5 L1362.2 600.6 L1363.2 597.8 L1364.2 595.9 L1365.2 597.8 L1366.2 598.8 L1367.2 599.5 L1368.2 594.5 L1369.2 588.9" stroke="#1e1e1e" stroke-width="4.5" opacity="1.0"/>
<path d="M185.0 770.7C185.6 769.4 185.9 768.1 187.1 766.4C188.4 764.7 188.0 764.6 189.3 765.0C190.6 765.4 190.3 766.6 191.4 767.9C192.6 769.1 192.1 772.7 193.1 769.3C194.2 765.9 193.9 763.7 195.0 756.4C196.1 749.1 195.8 745.9 196.9 745.0C197.9 744.1 197.4 743.3 198.6 753.6C199.7 763.9 199.4 766.9 200.7 779.3C202.0 791.7 201.6 791.6 202.9 795.0C204.1 798.4 203.5 794.6 205.0 790.7C206.5 786.9 206.1 782.1 207.9 782.1C209.6 782.1 209.0 785.1 210.7 790.7C212.4 796.3 212.1 795.1 213.6 800.7C215.1 806.3 214.2 806.7 215.7 809.3C217.2 811.9 217.1 808.9 218.6 809.3C220.1 809.7 219.5 809.4 220.7 810.7C221.9 812.0 221.1 816.6 222.6 813.6C224.1 810.6 223.9 810.1 225.7 800.7C227.5 791.3 226.9 790.7 228.6 782.1C230.3 773.6 229.7 778.1 231.4 772.1C233.1 766.1 232.6 766.0 234.3 762.1C236.0 758.3 235.4 758.9 237.1 759.3C238.9 759.7 238.3 758.4 240.0 763.6C241.7 768.7 241.4 770.0 242.9 776.4C244.4 782.9 243.7 786.3 245.0 785.0C246.3 783.7 245.9 781.6 247.1 772.1C248.4 762.7 248.0 762.6 249.3 753.6C250.6 744.6 250.1 742.1 251.4 742.1C252.7 742.1 252.3 744.6 253.6 753.6C254.9 762.6 254.4 763.6 255.7 772.1C257.0 780.7 256.4 779.6 257.9 782.1C259.4 784.7 259.4 779.4 260.7 780.7C262.0 782.0 260.9 782.1 262.1 786.4C263.4 790.7 263.5 793.3 265.0 795.0C266.5 796.7 265.9 794.7 267.1 792.1C268.4 789.6 268.0 789.0 269.3 786.4C270.6 783.9 270.1 783.1 271.4 783.6C272.7 784.0 272.4 782.7 273.6 787.9C274.8 793.0 274.4 795.1 275.4 800.7C276.5 806.3 276.0 806.9 277.1 806.4C278.3 806.0 277.8 804.9 279.3 799.3C280.8 793.7 280.4 792.1 282.1 787.9C283.9 783.6 283.3 785.4 285.0 785.0C286.7 784.6 286.4 783.0 287.9 786.4C289.4 789.9 288.5 792.6 290.0 796.4C291.5 800.3 291.2 798.0 292.9 799.3C294.5 800.6 293.7 802.9 295.4 800.7C297.1 798.6 296.8 792.6 298.6 792.1C300.4 791.7 299.7 799.3 301.4 799.3C303.1 799.3 302.6 794.3 304.3 792.1C306.0 790.0 305.6 791.7 307.1 792.1C308.6 792.6 307.8 794.4 309.3 793.6C310.8 792.7 310.6 791.0 312.1 789.3C313.6 787.6 313.0 784.0 314.3 787.9C315.6 791.7 315.1 792.7 316.4 802.1C317.7 811.6 317.4 812.4 318.6 819.3C319.7 826.1 319.2 826.7 320.3 825.0C321.4 823.3 320.9 823.4 322.1 813.6C323.3 803.7 323.0 802.0 324.3 792.1C325.6 782.3 325.1 784.6 326.4 780.7C327.7 776.9 327.3 780.6 328.6 779.3C329.9 778.0 329.5 781.6 330.7 776.4C331.9 771.3 331.5 770.7 332.6 762.1C333.6 753.6 333.3 750.4 334.3 747.9C335.2 745.3 334.9 751.9 335.7 753.6C336.6 755.3 336.3 754.0 337.1 753.6C338.0 753.1 337.7 752.6 338.6 752.1C339.4 751.7 339.1 749.6 340.0 752.1C340.9 754.7 340.6 757.7 341.4 760.7C342.3 763.7 341.6 762.6 342.9 762.1C344.1 761.7 344.2 758.4 345.7 759.3C347.2 760.1 346.6 760.7 347.9 765.0C349.1 769.3 348.7 770.1 350.0 773.6C351.3 777.0 350.9 776.0 352.1 776.4C353.4 776.9 352.8 775.4 354.3 775.0C355.8 774.6 355.4 776.7 357.1 775.0C358.9 773.3 358.4 771.9 360.0 769.3C361.6 766.7 361.3 766.0 362.6 766.4C363.9 766.9 363.1 767.7 364.3 770.7C365.4 773.7 365.2 776.4 366.4 776.4C367.6 776.4 367.3 773.7 368.3 770.7C369.3 767.7 368.8 766.0 369.7 766.4C370.7 766.9 370.3 765.7 371.4 772.1C372.6 778.6 372.3 779.7 373.6 787.9C374.9 796.0 374.4 793.9 375.7 799.3C377.0 804.6 376.6 799.5 377.9 805.7C379.1 811.9 378.7 813.1 380.0 820.0C381.3 826.9 380.9 826.9 382.1 828.6C383.4 830.3 382.4 827.4 384.3 825.7C386.2 824.0 386.6 827.6 388.6 822.9C390.5 818.1 389.4 817.7 390.7 810.0C392.0 802.3 391.4 801.9 392.9 797.1C394.4 792.4 394.2 792.1 395.7 794.3C397.2 796.4 396.6 794.9 397.9 804.3C399.1 813.7 398.7 814.6 400.0 825.7C401.3 836.9 400.9 835.4 402.1 841.4C403.4 847.4 403.0 849.6 404.3 845.7C405.6 841.9 404.9 841.9 406.4 828.6C407.9 815.3 407.8 812.1 409.3 801.4C410.8 790.7 410.1 793.3 411.4 792.9C412.7 792.4 412.3 791.9 413.6 800.0C414.9 808.1 414.5 816.1 415.7 820.0C416.9 823.9 416.5 813.7 417.6 812.9C418.6 812.0 418.3 812.9 419.3 817.1C420.3 821.4 419.9 829.7 421.0 827.1C422.1 824.6 421.7 818.4 422.9 808.6C424.1 798.7 423.7 799.0 425.0 794.3C426.3 789.6 425.9 794.6 427.1 792.9C428.4 791.1 428.0 792.9 429.3 788.6C430.6 784.3 430.1 782.4 431.4 778.6C432.7 774.7 432.1 780.4 433.6 775.7C435.1 771.0 434.9 763.7 436.4 762.9C437.9 762.0 437.3 766.0 438.6 772.9C439.9 779.7 439.4 777.6 440.7 785.7C442.0 793.9 441.6 790.1 442.9 800.0C444.1 809.9 443.7 808.3 445.0 818.6C446.3 828.9 445.9 831.3 447.1 834.3C448.4 837.3 447.8 832.0 449.3 828.6C450.8 825.1 450.6 830.1 452.1 822.9C453.6 815.6 453.0 815.0 454.3 804.3C455.6 793.6 455.4 793.6 456.4 787.1C457.5 780.7 456.8 782.0 457.9 782.9C458.9 783.7 458.7 784.9 460.0 790.0C461.3 795.1 460.9 794.4 462.1 800.0C463.4 805.6 463.0 804.7 464.3 808.6C465.6 812.4 464.9 813.3 466.4 812.9C467.9 812.4 467.9 805.0 469.3 807.1C470.7 809.3 470.1 812.3 471.0 820.0C471.9 827.7 471.4 832.9 472.4 832.9C473.4 832.9 473.1 830.3 474.3 820.0C475.5 809.7 475.1 808.9 476.4 798.6C477.7 788.3 477.3 790.4 478.6 785.7C479.9 781.0 479.3 782.4 480.7 782.9C482.1 783.3 481.8 783.7 483.3 787.1C484.8 790.6 484.3 790.0 485.7 794.3C487.1 798.6 486.6 797.6 487.9 801.4C489.1 805.3 488.5 806.3 490.0 807.1C491.5 808.0 491.4 808.1 492.9 804.3C494.4 800.4 493.7 799.0 495.0 794.3C496.3 789.6 495.9 789.4 497.1 788.6C498.4 787.7 498.0 784.6 499.3 791.4C500.6 798.3 500.4 802.9 501.4 811.4C502.5 820.0 502.0 820.0 502.9 820.0C503.7 820.0 503.4 815.7 504.3 811.4C505.1 807.1 504.6 804.4 505.7 805.7C506.8 807.0 506.6 807.1 507.9 815.7C509.1 824.3 508.7 821.0 510.0 834.3C511.3 847.6 510.9 854.9 512.1 860.0C513.4 865.1 513.0 856.6 514.3 851.4C515.6 846.3 515.1 846.3 516.4 842.9C517.7 839.4 517.3 846.0 518.6 840.0C519.9 834.0 519.2 825.9 520.7 822.9C522.2 819.9 521.9 824.0 523.6 830.0C525.3 836.0 524.7 835.6 526.4 842.9C528.1 850.1 527.8 848.7 529.3 854.3C530.8 859.9 530.1 863.1 531.4 861.4C532.7 859.7 532.3 857.6 533.6 848.6C534.9 839.6 534.6 838.3 535.7 831.4C536.8 824.6 536.1 825.3 537.1 825.7C538.2 826.1 538.0 827.7 539.3 832.9C540.6 838.0 540.1 834.3 541.4 842.9C542.7 851.4 542.4 853.3 543.6 861.4C544.7 869.6 544.2 870.4 545.3 870.0C546.4 869.6 545.9 870.7 547.1 860.0C548.3 849.3 548.0 848.9 549.3 834.3C550.6 819.7 550.1 825.1 551.4 811.4C552.8 797.7 552.6 792.0 553.9 788.6C555.1 785.1 554.6 788.9 555.7 800.0C556.8 811.1 556.5 821.0 557.6 825.7C558.6 830.4 558.1 820.4 559.3 815.7C560.4 811.0 560.2 813.0 561.4 810.0C562.6 807.0 562.2 812.6 563.3 805.7C564.4 798.9 563.8 797.9 565.0 787.1C566.2 776.4 565.6 779.0 567.1 770.0C568.6 761.0 568.5 759.7 570.0 757.1C571.5 754.6 571.0 753.9 572.1 761.4C573.3 768.9 572.8 770.8 573.9 782.1C575.0 793.4 574.5 792.7 575.9 799.2C577.3 805.7 576.8 799.2 578.5 803.9C580.3 808.5 580.0 814.7 581.6 814.7C583.3 814.7 582.6 811.8 584.0 803.9C585.4 795.9 584.9 800.4 586.3 788.3C587.7 776.2 587.1 776.5 588.6 763.5C590.2 750.4 590.0 748.1 591.4 744.8C592.8 741.6 592.0 745.2 593.3 752.6C594.5 760.1 594.0 760.8 595.6 769.7C597.3 778.5 596.9 774.7 598.7 782.1C600.6 789.6 600.0 786.1 601.8 794.5C603.7 802.9 602.9 801.7 604.9 810.1C606.9 818.4 606.6 821.6 608.5 822.5C610.4 823.4 609.7 820.6 611.1 813.2C612.6 805.7 612.2 805.1 613.5 797.6C614.7 790.2 614.2 786.5 615.3 788.3C616.5 790.2 616.1 791.7 617.4 803.9C618.6 816.0 618.2 815.7 619.4 828.7C620.5 841.7 620.1 849.2 621.2 847.3C622.4 845.5 622.0 839.7 623.3 822.5C624.6 805.2 624.3 796.4 625.6 789.9C626.8 783.4 626.2 794.7 627.5 800.7C628.7 806.8 628.4 801.7 629.8 810.1C631.2 818.4 630.9 828.7 632.1 828.7C633.4 828.7 632.8 823.1 634.0 810.1C635.1 797.0 634.7 799.2 636.0 785.2C637.3 771.2 637.2 772.8 638.3 763.5C639.5 754.2 638.7 753.2 639.9 754.2C641.0 755.1 640.8 757.3 642.2 766.6C643.6 775.9 643.1 774.0 644.5 785.2C645.9 796.4 645.2 795.9 646.9 803.9C648.5 811.8 648.4 807.9 650.0 811.6C651.5 815.3 650.6 824.2 652.0 816.3C653.4 808.4 653.4 797.8 654.6 785.2C655.9 772.6 655.2 773.4 656.2 774.3C657.2 775.3 656.9 772.5 657.9 788.3C658.9 804.2 658.5 825.3 659.6 827.1C660.7 829.0 660.5 811.3 661.6 794.5C662.7 777.8 662.1 779.6 663.2 771.2C664.2 762.9 663.9 765.7 665.0 766.6C666.2 767.5 665.7 768.3 667.0 774.3C668.4 780.4 668.2 779.8 669.4 786.8C670.5 793.8 670.0 790.7 670.9 797.6C671.9 804.6 671.3 808.2 672.5 810.1C673.6 811.9 673.4 805.2 674.8 803.9C676.2 802.5 675.7 801.2 677.1 805.4C678.5 809.6 678.2 809.4 679.5 817.8C680.8 826.2 680.3 825.0 681.5 833.4C682.7 841.7 682.1 847.2 683.4 845.8C684.6 844.4 684.3 838.0 685.7 828.7C687.1 819.4 686.8 820.8 688.0 814.7C689.3 808.7 688.7 807.1 689.9 808.5C691.0 809.9 690.7 809.1 691.9 819.4C693.1 829.6 692.7 825.4 693.9 842.7C695.2 859.9 695.0 870.8 696.1 876.8C697.2 882.9 696.6 873.6 697.6 862.9C698.7 852.1 698.4 854.2 699.7 841.1C701.0 828.1 700.7 827.8 702.0 819.4C703.2 811.0 702.5 813.6 703.9 813.2C705.2 812.7 705.0 818.8 706.3 817.8C707.6 816.9 707.2 815.7 708.2 810.1C709.2 804.5 708.6 803.4 709.8 799.2C710.9 795.0 710.7 799.8 712.1 796.1C713.5 792.4 713.0 792.8 714.4 786.8C715.8 780.7 715.6 775.0 716.7 775.9C717.9 776.8 717.5 777.8 718.3 789.9C719.1 802.0 718.6 801.4 719.4 816.3C720.2 831.2 719.9 834.9 720.9 839.6C722.0 844.2 721.6 836.0 723.0 831.8C724.3 827.6 724.0 833.5 725.3 825.6C726.5 817.7 726.0 825.0 727.1 805.4C728.3 785.8 728.0 775.7 729.2 760.4C730.3 745.0 729.9 752.3 731.0 754.2C732.2 756.0 731.9 767.0 733.0 766.6C734.2 766.1 733.9 750.7 734.9 752.6C735.9 754.5 735.4 773.3 736.5 772.8C737.5 772.3 737.3 756.2 738.5 751.1C739.7 745.9 739.3 751.5 740.5 755.7C741.7 759.9 741.1 757.1 742.4 765.0C743.6 773.0 743.3 781.6 744.7 782.1C746.1 782.6 745.6 768.9 747.0 766.6C748.4 764.3 748.0 767.4 749.3 774.3C750.7 781.3 750.4 783.8 751.7 789.9C752.9 795.9 752.4 796.9 753.5 794.5C754.7 792.2 754.3 791.4 755.6 782.1C756.9 772.8 756.5 775.1 757.9 763.5C759.3 751.8 758.8 752.6 760.2 743.3C761.6 734.0 761.1 735.2 762.5 732.4C763.9 729.6 763.6 728.4 764.9 734.0C766.2 739.6 765.4 736.0 766.9 751.1C768.4 766.1 768.3 778.6 769.9 784.1C771.6 789.6 770.9 776.2 772.4 769.3C773.9 762.4 773.4 763.1 774.9 761.1C776.3 759.1 775.6 758.3 777.3 762.7C779.1 767.2 778.9 776.4 780.6 775.9C782.3 775.4 781.8 768.0 783.1 761.1C784.3 754.2 783.5 750.4 784.7 752.9C786.0 755.3 785.7 760.9 787.2 769.3C788.7 777.7 788.2 776.9 789.7 780.8C791.1 784.7 790.6 780.0 792.1 782.4C793.6 784.9 792.6 783.6 794.6 789.0C796.6 794.4 796.2 799.0 798.7 800.5C801.2 802.0 800.6 791.5 802.8 794.0C805.0 796.4 804.1 800.4 806.1 808.7C808.1 817.1 807.6 817.5 809.4 821.9C811.1 826.3 810.0 825.5 811.8 823.5C813.7 821.6 813.6 814.8 815.6 815.3C817.6 815.8 816.6 821.2 818.4 825.2C820.2 829.1 820.0 826.5 821.7 828.5C823.4 830.4 822.4 824.8 824.2 831.8C825.9 838.7 825.5 839.6 827.4 851.5C829.4 863.3 828.9 864.3 830.7 871.2C832.6 878.1 831.7 878.4 833.7 874.5C835.7 870.5 835.0 867.9 837.3 858.0C839.6 848.2 839.4 843.6 841.4 841.6C843.4 839.6 842.4 848.0 843.9 851.5C845.4 854.9 844.9 849.2 846.3 853.1C847.8 857.1 847.3 858.7 848.8 864.6C850.3 870.5 849.6 870.4 851.3 872.8C853.0 875.3 852.7 866.9 854.6 872.8C856.4 878.8 855.9 894.0 857.4 892.6C858.8 891.1 857.9 878.8 859.5 867.9C861.1 857.1 860.8 865.3 862.8 856.4C864.8 847.5 864.3 839.8 866.1 838.3C867.8 836.8 866.8 840.6 868.5 851.5C870.3 862.3 870.1 868.1 871.8 874.5C873.5 880.9 872.6 867.4 874.3 872.8C876.0 878.3 875.8 893.0 877.6 892.6C879.3 892.1 878.3 882.5 880.0 871.2C881.8 859.9 881.4 868.1 883.3 854.8C885.3 841.4 884.4 838.7 886.6 826.8C888.8 815.0 888.8 815.8 890.7 815.3C892.6 814.8 891.6 819.3 892.9 825.2C894.1 831.1 893.3 836.5 894.8 835.0C896.3 833.6 896.3 822.7 897.8 820.2C899.3 817.8 898.4 825.3 899.8 826.8C901.1 828.3 900.8 831.6 902.2 825.2C903.6 818.8 902.9 815.3 904.4 805.5C905.8 795.6 905.8 788.4 907.2 792.3C908.5 796.3 907.8 803.3 908.8 818.6C909.8 833.9 909.2 830.9 910.4 843.3C911.7 855.6 911.4 849.3 912.9 859.7C914.4 870.0 913.9 877.8 915.4 877.8C916.8 877.8 916.4 874.5 917.8 859.7C919.3 844.9 918.9 845.2 920.3 828.5C921.7 811.7 921.3 815.6 922.4 803.8C923.6 792.0 923.0 790.0 924.1 789.0C925.2 788.0 924.7 793.1 926.1 800.5C927.4 807.9 927.0 807.3 928.5 813.7C930.0 820.1 929.5 814.5 931.0 821.9C932.5 829.3 932.2 829.4 933.4 838.3C934.7 847.2 933.9 849.5 935.1 851.5C936.3 853.4 935.6 847.4 937.6 844.9C939.5 842.4 939.4 842.3 941.7 843.3C943.9 844.2 943.2 845.2 945.0 848.2C946.7 851.1 945.9 850.6 947.4 853.1C948.9 855.6 948.4 857.9 949.9 856.4C951.4 854.9 950.6 848.7 952.3 848.2C954.1 847.7 953.7 849.8 955.6 854.8C957.6 859.7 957.2 863.6 958.9 864.6C960.6 865.6 959.3 849.4 961.4 858.0C963.4 866.7 963.4 886.2 965.8 893.4C968.1 900.6 967.5 880.2 969.2 881.9C970.9 883.6 970.1 891.1 971.5 899.2C972.9 907.2 972.5 897.2 973.8 908.7C975.1 920.2 974.6 936.4 975.7 937.5C976.9 938.7 976.3 931.6 977.6 912.6C979.0 893.6 978.5 893.8 980.1 874.2C981.7 854.7 981.6 860.0 983.0 847.4C984.4 834.7 983.8 833.8 984.9 832.0C986.1 830.3 985.7 842.8 986.8 841.6C988.0 840.5 987.6 841.4 988.8 828.2C989.9 815.0 989.4 815.4 990.7 797.5C991.9 779.7 991.5 781.4 993.0 768.8C994.4 756.1 993.9 756.5 995.5 755.3C997.1 754.2 996.8 753.4 998.4 764.9C999.9 776.4 999.2 769.0 1000.7 793.7C1002.1 818.4 1001.8 820.3 1003.1 847.4C1004.5 874.4 1003.6 862.0 1005.1 883.8C1006.5 905.7 1006.2 912.8 1007.9 920.2C1009.7 927.7 1009.2 912.2 1010.8 908.7C1012.4 905.3 1012.0 905.3 1013.3 908.7C1014.6 912.2 1014.0 924.9 1015.2 920.2C1016.5 915.6 1016.0 910.1 1017.5 893.4C1019.1 876.7 1018.7 869.2 1020.4 864.6C1022.1 860.0 1021.6 870.0 1023.3 878.1C1025.0 886.1 1024.4 892.6 1026.2 891.5C1027.9 890.3 1027.6 881.7 1029.0 874.2C1030.5 866.7 1029.5 870.6 1030.9 866.6C1032.4 862.5 1032.4 872.9 1033.8 860.8C1035.3 848.7 1034.4 844.1 1035.7 826.3C1037.1 808.5 1036.8 805.4 1038.2 801.4C1039.7 797.3 1038.8 808.3 1040.5 812.9C1042.3 817.5 1042.1 819.0 1044.0 816.7C1045.8 814.4 1045.1 800.6 1046.7 805.2C1048.2 809.8 1047.7 819.4 1049.2 832.0C1050.7 844.7 1049.9 840.5 1051.7 847.4C1053.4 854.3 1053.1 849.3 1054.9 855.1C1056.8 860.8 1056.1 860.8 1057.8 866.6C1059.5 872.3 1058.8 873.1 1060.7 874.2C1062.5 875.4 1062.2 877.3 1063.9 870.4C1065.7 863.5 1064.8 861.6 1066.4 851.2C1068.0 840.9 1067.6 846.2 1069.3 835.9C1071.0 825.5 1070.6 824.2 1072.2 816.7C1073.8 809.2 1073.2 810.9 1074.7 810.9C1076.1 810.9 1075.6 810.4 1077.0 816.7C1078.4 823.0 1077.9 823.4 1079.3 832.0C1080.6 840.7 1079.8 844.3 1081.4 845.5C1083.0 846.6 1082.8 837.6 1084.6 835.9C1086.5 834.2 1085.7 832.2 1087.5 839.7C1089.4 847.2 1088.9 863.7 1090.8 860.8C1092.7 857.9 1092.1 831.3 1093.8 830.1C1095.6 829.0 1095.1 856.4 1096.7 857.0C1098.4 857.5 1097.9 848.1 1099.4 832.0C1101.0 815.9 1100.0 814.2 1101.9 803.3C1103.8 792.3 1103.7 797.3 1105.7 795.6C1107.7 793.9 1106.9 798.1 1108.6 797.5C1110.3 797.0 1109.4 799.4 1111.5 793.7C1113.6 787.9 1113.7 777.8 1115.7 778.4C1117.7 778.9 1116.6 788.1 1118.2 795.6C1119.8 803.1 1119.5 794.1 1121.1 803.3C1122.6 812.5 1122.3 814.2 1123.4 826.3C1124.4 838.4 1123.5 841.8 1124.5 843.5C1125.6 845.3 1125.3 832.6 1126.8 832.0C1128.4 831.5 1128.3 843.4 1129.7 841.6C1131.1 839.9 1130.1 837.2 1131.6 826.3C1133.2 815.4 1133.2 809.2 1134.9 805.2C1136.6 801.2 1135.5 806.0 1137.4 812.9C1139.3 819.8 1139.2 824.8 1141.2 828.2C1143.2 831.7 1142.4 830.7 1144.1 824.4C1145.8 818.0 1145.5 814.0 1147.0 807.1C1148.4 800.2 1147.4 799.6 1148.9 801.4C1150.3 803.1 1149.7 808.3 1151.8 812.9C1153.8 817.5 1153.2 816.2 1155.6 816.7C1158.0 817.2 1157.8 812.7 1159.7 814.6C1161.7 816.6 1160.7 820.0 1162.1 823.3C1163.5 826.6 1162.8 824.7 1164.4 825.6C1166.1 826.6 1165.9 829.5 1167.6 826.4C1169.2 823.4 1168.5 822.5 1169.9 815.4C1171.3 808.4 1170.9 809.5 1172.3 802.9C1173.7 796.3 1173.5 797.2 1174.6 793.4C1175.8 789.7 1175.0 788.4 1176.2 790.3C1177.4 792.2 1177.4 791.2 1178.6 799.7C1179.7 808.2 1179.2 808.2 1180.1 818.6C1181.1 828.9 1180.8 833.3 1181.7 834.3C1182.7 835.2 1182.1 827.8 1183.3 821.7C1184.5 815.6 1184.2 815.7 1185.6 813.9C1187.1 812.0 1186.6 813.1 1188.0 815.4C1189.4 817.8 1189.2 822.2 1190.4 821.7C1191.5 821.2 1190.7 817.4 1191.9 813.9C1193.1 810.3 1192.9 810.4 1194.3 809.9C1195.7 809.5 1195.0 811.6 1196.6 812.3C1198.3 813.0 1198.1 810.4 1199.8 812.3C1201.4 814.2 1200.7 812.9 1202.1 818.6C1203.6 824.2 1203.3 822.7 1204.5 831.1C1205.7 839.6 1204.9 837.4 1206.1 846.9C1207.2 856.3 1207.0 859.7 1208.4 862.6C1209.8 865.4 1209.4 861.5 1210.8 856.3C1212.2 851.1 1211.5 849.1 1213.1 845.3C1214.8 841.5 1214.6 844.2 1216.3 843.7C1217.9 843.2 1217.2 841.8 1218.6 843.7C1220.1 845.6 1219.6 846.2 1221.0 850.0C1222.4 853.8 1222.0 855.8 1223.4 856.3C1224.7 856.8 1224.2 849.2 1225.4 851.6C1226.6 853.9 1226.0 867.4 1227.3 864.1C1228.6 860.8 1228.0 851.9 1229.6 840.6C1231.3 829.3 1231.1 827.4 1232.8 826.4C1234.4 825.5 1233.7 835.1 1235.1 837.4C1236.6 839.8 1236.1 836.4 1237.5 834.3C1238.9 832.2 1238.4 829.4 1239.9 830.4C1241.3 831.3 1240.7 830.1 1242.2 837.4C1243.7 844.7 1243.5 853.8 1244.9 854.7C1246.3 855.7 1245.6 851.4 1246.9 840.6C1248.2 829.7 1247.9 828.5 1249.3 818.6C1250.7 808.7 1250.5 807.6 1251.6 807.6C1252.8 807.6 1252.1 807.3 1253.2 818.6C1254.3 829.9 1254.1 842.9 1255.3 845.3C1256.4 847.6 1255.9 834.4 1257.1 826.4C1258.4 818.4 1258.1 821.4 1259.5 818.6C1260.9 815.7 1260.4 824.5 1261.9 817.0C1263.3 809.5 1263.0 804.3 1264.2 793.4C1265.4 782.6 1264.8 786.5 1265.8 780.9C1266.7 775.2 1266.2 774.6 1267.4 774.6C1268.5 774.6 1268.3 777.6 1269.7 780.9C1271.1 784.2 1270.7 783.7 1272.1 785.6C1273.5 787.5 1273.0 784.8 1274.4 787.1C1275.8 789.5 1275.4 792.0 1276.8 793.4C1278.2 794.8 1277.7 791.9 1279.1 791.9C1280.5 791.9 1280.1 791.1 1281.5 793.4C1282.9 795.8 1282.4 795.5 1283.8 799.7C1285.3 804.0 1284.8 803.8 1286.2 807.6C1287.6 811.3 1287.1 812.8 1288.6 812.3C1290.0 811.8 1289.5 809.1 1290.9 806.0C1292.3 802.9 1291.6 803.5 1293.3 802.1C1294.9 800.7 1294.5 801.8 1296.4 801.3C1298.3 800.8 1297.7 800.3 1299.6 800.5C1301.4 800.7 1301.1 801.1 1302.7 802.1C1304.4 803.0 1303.6 802.0 1305.1 803.6C1306.5 805.3 1305.8 805.4 1307.4 807.6C1309.1 809.7 1308.9 808.4 1310.6 810.7C1312.2 813.1 1311.5 811.2 1312.9 815.4C1314.3 819.7 1313.9 824.4 1315.3 824.9C1316.7 825.3 1316.2 825.5 1317.6 817.0C1319.0 808.5 1318.6 807.4 1320.0 796.6C1321.4 785.7 1320.9 786.5 1322.3 780.9C1323.8 775.2 1323.3 778.2 1324.7 777.7C1326.1 777.2 1325.6 778.8 1327.1 779.3C1328.5 779.8 1328.0 776.0 1329.4 779.3C1330.8 782.6 1330.4 781.8 1331.8 790.3C1333.2 798.8 1333.0 800.5 1334.1 807.6C1335.3 814.6 1334.5 816.2 1335.7 813.9C1336.9 811.5 1336.6 807.7 1338.1 799.7C1339.5 791.7 1339.0 792.8 1340.4 787.1C1341.8 781.5 1341.4 781.3 1342.8 780.9C1344.2 780.4 1343.7 779.0 1345.1 785.6C1346.5 792.2 1346.1 796.3 1347.5 802.9C1348.9 809.5 1348.4 809.0 1349.8 807.6C1351.3 806.2 1351.0 801.9 1352.2 798.1C1353.4 794.4 1352.6 793.8 1353.8 795.0C1355.0 796.2 1354.5 801.1 1356.1 802.1C1357.8 803.0 1357.4 799.8 1359.3 798.1C1361.2 796.5 1360.8 799.9 1362.4 796.6C1364.1 793.3 1363.6 791.9 1364.8 787.1C1366.0 782.4 1365.2 783.2 1366.3 780.9C1367.5 778.5 1368.0 779.8 1368.7 779.3" stroke="#383838" stroke-width="2.2"/>
</g>
<text x="211.20" y="38.20" font-size="33.5" textLength="56.76" lengthAdjust="spacing">Jan</text>
<text x="310.12" y="38.79" font-size="33.5" textLength="56.03" lengthAdjust="spacing">Feb</text>
<text x="404.32" y="39.34" font-size="33.5" textLength="56.96" lengthAdjust="spacing">Mar</text>
<text x="507.50" y="39.92" font-size="33.5" textLength="54.04" lengthAdjust="spacing">Apr</text>
<text x="605.52" y="40.50" font-size="33.5" textLength="62.05" lengthAdjust="spacing">May</text>
<text x="707.30" y="41.08" font-size="33.5" textLength="52.06" lengthAdjust="spacing">Jun</text>
<text x="810.20" y="41.68" font-size="33.5" textLength="46.39" lengthAdjust="spacing">Jul</text>
<text x="906.40" y="42.23" font-size="33.5" textLength="57.86" lengthAdjust="spacing">Aug</text>
<text x="999.49" y="42.78" font-size="33.5" textLength="56.73" lengthAdjust="spacing">Sep</text>
<text x="1100.79" y="43.37" font-size="33.5" textLength="57.10" lengthAdjust="spacing">Oct</text>
<text x="1202.32" y="43.97" font-size="33.5" textLength="59.19" lengthAdjust="spacing">Nov</text>
<text x="1297.32" y="44.52" font-size="33.5" textLength="59.16" lengthAdjust="spacing">Dec</text>
<text x="109.88" y="327.60" font-size="32" textLength="46.25" lengthAdjust="spacing">-80</text>
<text x="110.26" y="239.90" font-size="32" textLength="46.25" lengthAdjust="spacing">-60</text>
<text x="110.65" y="152.20" font-size="32" textLength="46.25" lengthAdjust="spacing">-40</text>
<text x="111.03" y="64.50" font-size="32" textLength="46.25" lengthAdjust="spacing">-20</text>
<text x="136.16" y="651.00" font-size="32" textLength="17.80" lengthAdjust="spacing">0</text>
<text x="136.47" y="585.40" font-size="32" textLength="17.80" lengthAdjust="spacing">4</text>
<text x="137.27" y="519.80" font-size="32" textLength="17.80" lengthAdjust="spacing">8</text>
<text x="120.31" y="454.20" font-size="32" textLength="35.59" lengthAdjust="spacing">12</text>
<text x="120.46" y="388.60" font-size="32" textLength="35.59" lengthAdjust="spacing">16</text>
<text x="98.54" y="975.20" font-size="32" textLength="53.39" lengthAdjust="spacing">640</text>
<text x="98.94" y="899.60" font-size="32" textLength="53.39" lengthAdjust="spacing">660</text>
<text x="99.34" y="824.00" font-size="32" textLength="53.39" lengthAdjust="spacing">680</text>
<text x="99.74" y="748.40" font-size="32" textLength="53.39" lengthAdjust="spacing">700</text>
<text x="173.00" y="1021.50" font-size="32.5" textLength="17.58" lengthAdjust="spacing">0</text>
<text x="283.96" y="1021.90" font-size="32.5" textLength="72.56" lengthAdjust="spacing">1000</text>
<text x="412.57" y="1022.36" font-size="32.5" textLength="74.05" lengthAdjust="spacing">2000</text>
<text x="549.80" y="1022.86" font-size="32.5" textLength="78.83" lengthAdjust="spacing">3000</text>
<text x="687.95" y="1023.35" font-size="32.5" textLength="70.88" lengthAdjust="spacing">4000</text>
<text x="821.20" y="1023.83" font-size="32.5" textLength="77.43" lengthAdjust="spacing">5000</text>
<text x="956.58" y="1024.32" font-size="32.5" textLength="71.35" lengthAdjust="spacing">6000</text>
<text x="1089.38" y="1024.80" font-size="32.5" textLength="77.75" lengthAdjust="spacing">7000</text>
<text x="1230.54" y="1025.31" font-size="32.5" textLength="70.59" lengthAdjust="spacing">8000</text>
<text x="596.72" y="1084.30" font-size="33.5" textLength="361.68" lengthAdjust="spacing">Hours Since 1 Jan 1992</text>
<text transform="translate(36.20 329.40) rotate(-90)" x="-0.00" y="0" font-size="33.5" textLength="242.44" lengthAdjust="spacing">Air Temperature</text>
<text transform="translate(87.3 237.0) rotate(-90)" font-size="33.5"><tspan x="-1.4" y="0">(</tspan><tspan x="9.9" y="-7.3" font-size="22">o</tspan><tspan x="23.9" y="0">C</tspan><tspan x="49.0" y="0">)</tspan></text>
<text transform="translate(37.30 601.80) rotate(-90)" x="-0.17" y="0" font-size="33.5" textLength="185.24" lengthAdjust="spacing">Wind Speed</text>
<text transform="translate(87.1 557.6) rotate(-90)" font-size="32"><tspan x="-1.7" y="0">(</tspan><tspan x="8.1" y="0">m</tspan><tspan x="46.9" y="0">s</tspan><tspan x="64.1" y="-7" font-size="21">-</tspan><tspan x="71.9" y="-7" font-size="21">1</tspan><tspan x="84.8" y="0">)</tspan></text>
<text transform="translate(31.50 967.00) rotate(-90)" x="-1.51" y="0" font-size="33.5" textLength="264.14" lengthAdjust="spacing">Surface Pressure</text>
<text transform="translate(77.30 904.50) rotate(-90)" x="-2.01" y="0" font-size="33.5" textLength="147.63" lengthAdjust="spacing">(millibars)</text>
</svg></body></html>
